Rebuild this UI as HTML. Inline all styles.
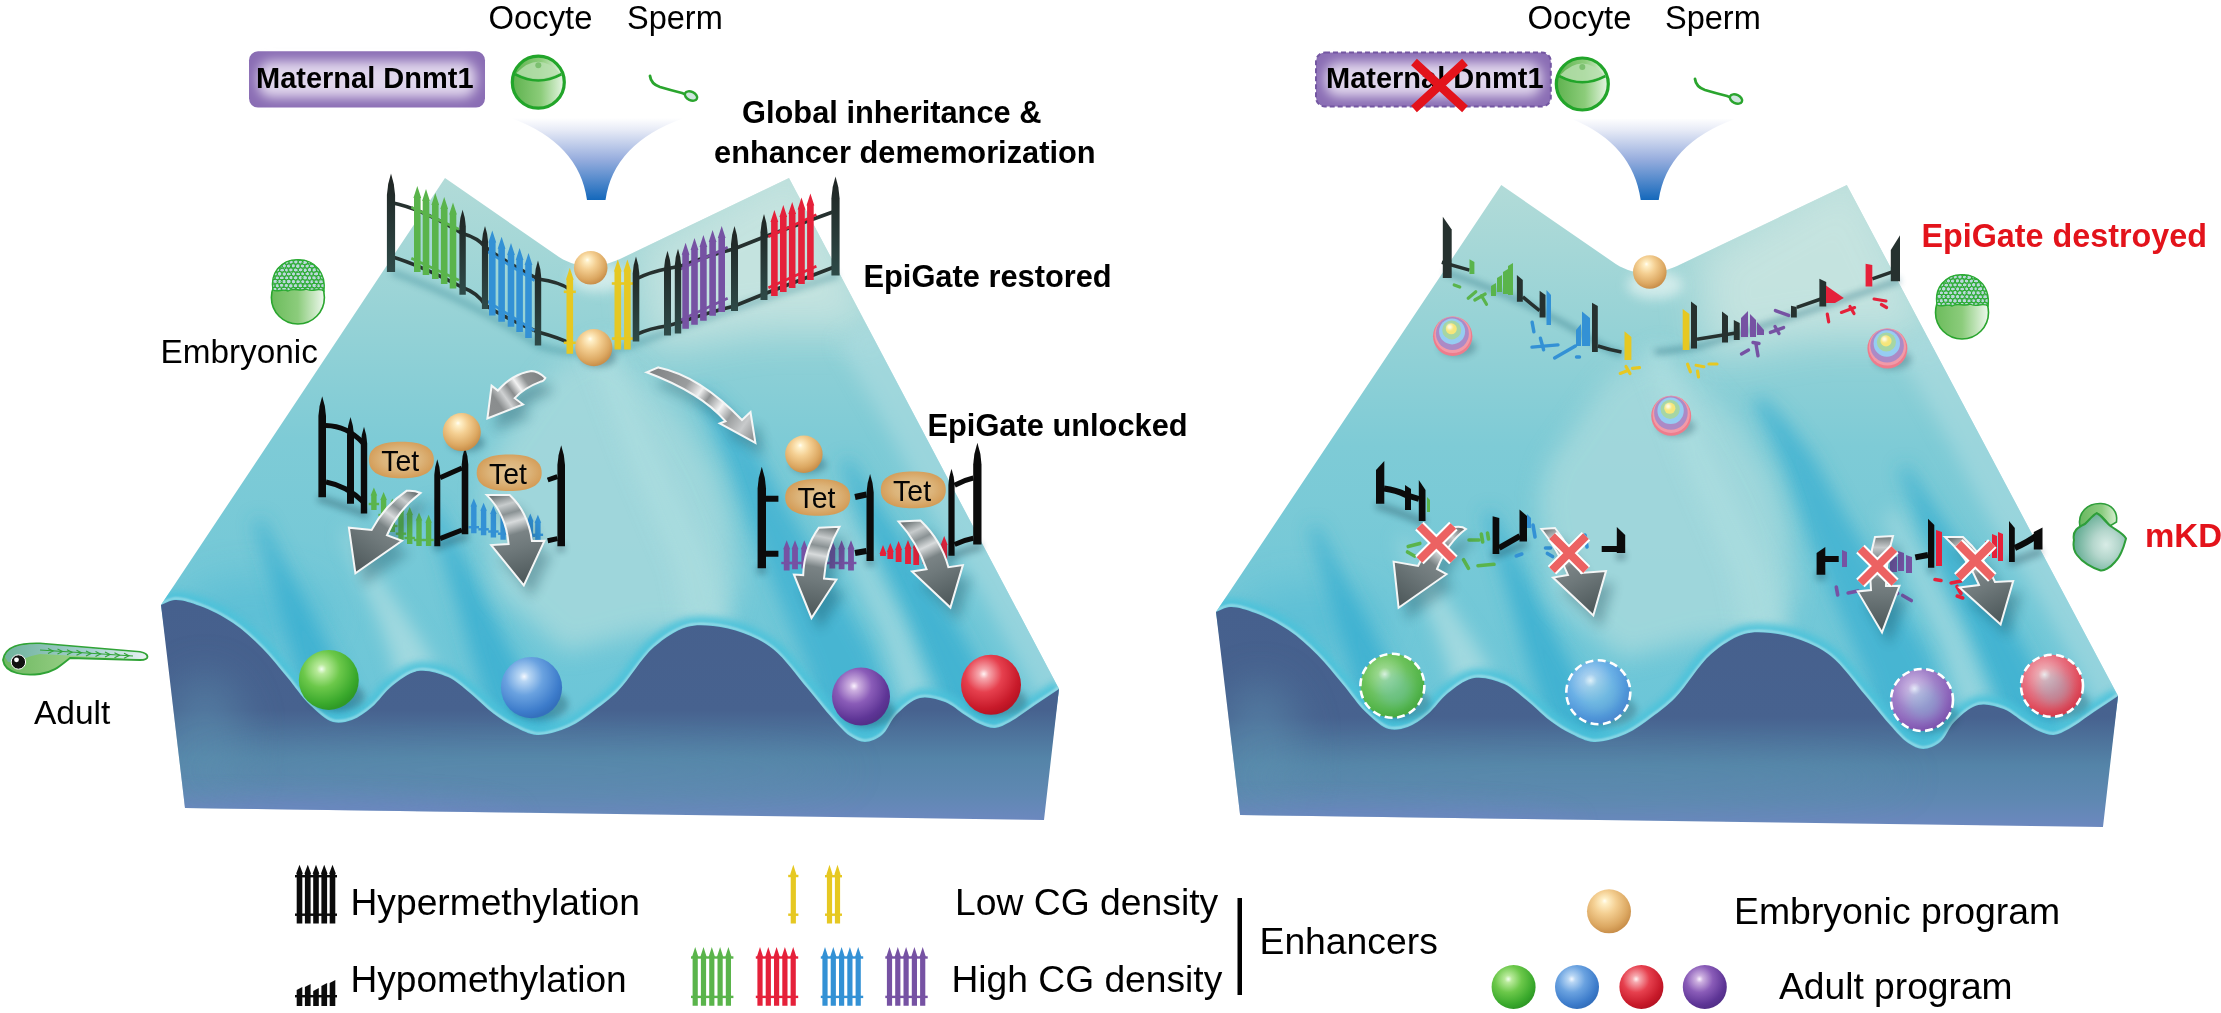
<!DOCTYPE html><html><head><meta charset="utf-8"><style>html,body{margin:0;padding:0;background:#fff;width:2221px;height:1013px;overflow:hidden}svg{display:block}text{font-family:"Liberation Sans",sans-serif}</style></head><body>
<svg width="2221" height="1013" viewBox="0 0 2221 1013">
<defs>
<linearGradient id="gFront" x1="0" y1="600" x2="0" y2="820" gradientUnits="userSpaceOnUse">
 <stop offset="0" stop-color="#46608d"/><stop offset="0.5" stop-color="#47628f"/>
 <stop offset="0.72" stop-color="#5484a8"/><stop offset="0.88" stop-color="#5f88b2"/><stop offset="1" stop-color="#6c88bf"/></linearGradient>
<linearGradient id="gTop" x1="0" y1="178" x2="0" y2="700" gradientUnits="userSpaceOnUse">
 <stop offset="0" stop-color="#b2dbd8"/><stop offset="0.25" stop-color="#98d3d6"/>
 <stop offset="0.5" stop-color="#7ecbd6"/><stop offset="1" stop-color="#6cc6d8"/></linearGradient>
<filter id="b6" x="-50%" y="-50%" width="200%" height="200%"><feGaussianBlur stdDeviation="6"/></filter>
<filter id="b12" x="-50%" y="-50%" width="200%" height="200%"><feGaussianBlur stdDeviation="12"/></filter>
<filter id="b20" x="-50%" y="-50%" width="200%" height="200%"><feGaussianBlur stdDeviation="20"/></filter>
<filter id="b9" x="-50%" y="-50%" width="200%" height="200%"><feGaussianBlur stdDeviation="9"/></filter>
<filter id="b4" x="-50%" y="-50%" width="200%" height="200%"><feGaussianBlur stdDeviation="4"/></filter>
<filter id="b1" x="-50%" y="-50%" width="200%" height="200%"><feGaussianBlur stdDeviation="1"/></filter>
<filter id="b3" x="-50%" y="-50%" width="200%" height="200%"><feGaussianBlur stdDeviation="3"/></filter>
<clipPath id="cTop"><path d="M445,178 L559,257 C570,264 580,266 592,266 C603,266 610,263 620,259 L789,178 L1059,689 L1050,760 L182,760 L161,605 Z"/></clipPath>
<clipPath id="cFront"><path d="M161.0,605.0 C165.7,603.3 169.6,600.3 175.0,600.0 C182.1,599.6 191.3,602.8 200.0,606.0 C210.5,609.9 222.7,616.1 233.0,623.0 C243.4,630.0 253.0,639.0 262.0,648.0 C271.0,657.0 278.9,667.4 287.0,677.0 C294.9,686.4 301.8,697.2 310.0,705.0 C317.3,711.9 325.3,719.9 333.0,722.0 C339.3,723.7 345.8,722.2 352.0,720.0 C358.9,717.6 365.6,712.3 372.0,707.0 C379.0,701.2 384.4,692.0 392.0,686.0 C399.7,679.9 408.7,672.5 418.0,671.0 C427.4,669.5 439.1,673.1 448.0,677.0 C456.4,680.7 462.6,687.1 470.0,693.0 C478.0,699.4 486.0,708.1 494.0,714.0 C501.0,719.2 507.7,723.5 515.0,727.0 C522.1,730.4 528.9,734.6 537.0,735.0 C546.6,735.5 559.2,731.3 569.0,727.0 C578.5,722.8 586.8,716.1 595.0,710.0 C603.1,704.1 609.9,699.1 618.0,691.0 C629.2,679.8 641.3,658.1 654.0,647.0 C664.5,637.9 676.2,630.2 687.0,627.0 C695.8,624.3 704.1,625.1 713.0,626.0 C722.7,626.9 733.2,629.3 743.0,633.0 C753.3,636.9 763.3,641.3 773.0,649.0 C785.1,658.6 797.5,676.7 808.0,689.0 C816.8,699.4 824.4,709.6 832.0,718.0 C838.3,724.9 843.8,731.9 850.0,736.0 C854.9,739.2 859.8,742.0 865.0,742.0 C870.5,742.0 877.1,738.9 882.0,735.0 C887.7,730.5 890.1,720.9 896.0,715.0 C902.5,708.5 911.5,700.0 920.0,698.0 C927.9,696.2 937.4,699.1 945.0,702.0 C952.4,704.8 958.8,711.1 965.0,715.0 C970.3,718.3 974.8,721.8 980.0,724.0 C984.9,726.1 990.0,728.3 995.0,728.0 C1000.1,727.7 1004.5,724.9 1010.0,722.0 C1017.5,718.0 1026.7,710.6 1035.0,705.0 C1043.1,699.6 1051.0,694.3 1059.0,689.0 L1044,820 L185,808 Z"/></clipPath>
<radialGradient id="gOr" cx="42%" cy="36%" r="64%" fx="40%" fy="26%"><stop offset="0" stop-color="#fffef6"/><stop offset="0.1" stop-color="#fff0c8"/><stop offset="0.4" stop-color="#f4cf92"/><stop offset="0.8" stop-color="#dca862"/><stop offset="1" stop-color="#c98f4a"/></radialGradient><radialGradient id="gGr" cx="38%" cy="32%" r="68%" fx="38%" fy="32%"><stop offset="0" stop-color="#f2fff0"/><stop offset="0.12" stop-color="#b8ea9a"/><stop offset="0.45" stop-color="#6cc84a"/><stop offset="0.85" stop-color="#3aa92c"/><stop offset="1" stop-color="#2f9a26"/></radialGradient><radialGradient id="gBl" cx="38%" cy="32%" r="68%" fx="38%" fy="32%"><stop offset="0" stop-color="#f4f8ff"/><stop offset="0.12" stop-color="#b8d6f4"/><stop offset="0.45" stop-color="#6aa2e0"/><stop offset="0.85" stop-color="#3d7ccb"/><stop offset="1" stop-color="#3470bd"/></radialGradient><radialGradient id="gPu" cx="38%" cy="32%" r="68%" fx="38%" fy="32%"><stop offset="0" stop-color="#fbf2ff"/><stop offset="0.12" stop-color="#cdb0e0"/><stop offset="0.45" stop-color="#8a5cb8"/><stop offset="0.85" stop-color="#5e3596"/><stop offset="1" stop-color="#54308a"/></radialGradient><radialGradient id="gRe" cx="38%" cy="32%" r="68%" fx="38%" fy="32%"><stop offset="0" stop-color="#fff4f4"/><stop offset="0.12" stop-color="#f6a8ae"/><stop offset="0.45" stop-color="#e6404e"/><stop offset="0.85" stop-color="#c81a2a"/><stop offset="1" stop-color="#b81424"/></radialGradient><radialGradient id="gGrF" cx="38%" cy="32%" r="68%" fx="38%" fy="32%"><stop offset="0" stop-color="#e8f8e0"/><stop offset="0.15" stop-color="#9ad88a"/><stop offset="0.5" stop-color="#6cc25a"/><stop offset="0.85" stop-color="#52b448"/><stop offset="1" stop-color="#48aa40"/></radialGradient><radialGradient id="gBlF" cx="38%" cy="32%" r="68%" fx="38%" fy="32%"><stop offset="0" stop-color="#f0f8ff"/><stop offset="0.15" stop-color="#a8d0f0"/><stop offset="0.5" stop-color="#6ab0e6"/><stop offset="0.85" stop-color="#4e94d8"/><stop offset="1" stop-color="#4a8ad0"/></radialGradient><radialGradient id="gPuF" cx="38%" cy="32%" r="68%" fx="38%" fy="32%"><stop offset="0" stop-color="#f8f0ff"/><stop offset="0.15" stop-color="#c8b0e0"/><stop offset="0.5" stop-color="#a080c8"/><stop offset="0.85" stop-color="#8a60b8"/><stop offset="1" stop-color="#7e54ae"/></radialGradient><radialGradient id="gReF" cx="38%" cy="32%" r="68%" fx="38%" fy="32%"><stop offset="0" stop-color="#fff0f0"/><stop offset="0.15" stop-color="#f0a8b0"/><stop offset="0.5" stop-color="#e87080"/><stop offset="0.85" stop-color="#e04858"/><stop offset="1" stop-color="#d83a4c"/></radialGradient><radialGradient id="gRainbow" cx="50%" cy="50%" r="50%" fx="42%" fy="34%"><stop offset="0" stop-color="#fffab0"/><stop offset="0.14" stop-color="#f4ec78"/><stop offset="0.24" stop-color="#c4e4a0"/><stop offset="0.36" stop-color="#a6dcc0"/><stop offset="0.46" stop-color="#96cff2"/><stop offset="0.58" stop-color="#a4b4ea"/><stop offset="0.7" stop-color="#ae94d2"/><stop offset="0.82" stop-color="#d494c4"/><stop offset="0.92" stop-color="#f4a0b0"/><stop offset="1" stop-color="#ee7484"/></radialGradient><radialGradient id="gTet" cx="50%" cy="48%" r="55%" fx="50%" fy="48%"><stop offset="0" stop-color="#e2c492"/><stop offset="0.55" stop-color="#dcb47a"/><stop offset="1" stop-color="#d39a54"/></radialGradient><linearGradient id="gPost" x1="0" y1="0" x2="0" y2="1" gradientUnits="objectBoundingBox"><stop offset="0" stop-color="#1f2422"/><stop offset="1" stop-color="#2e4a48"/></linearGradient><linearGradient id="gArrU" x1="545" y1="377" x2="487" y2="418" gradientUnits="userSpaceOnUse"><stop offset="0" stop-color="#7d8081"/><stop offset="0.25" stop-color="#8f9293"/><stop offset="0.38" stop-color="#f2f2f2"/><stop offset="0.5" stop-color="#8a8d8e"/><stop offset="0.62" stop-color="#cfd1d2"/><stop offset="0.75" stop-color="#8a8d8e"/><stop offset="1" stop-color="#8c8f90"/></linearGradient><linearGradient id="gArrU2" x1="650" y1="370" x2="755" y2="443" gradientUnits="userSpaceOnUse"><stop offset="0" stop-color="#7f8283"/><stop offset="0.3" stop-color="#9a9d9e"/><stop offset="0.42" stop-color="#eeeeee"/><stop offset="0.5" stop-color="#8e9192"/><stop offset="0.62" stop-color="#f4f4f4"/><stop offset="0.72" stop-color="#9a9d9e"/><stop offset="0.85" stop-color="#c8cacb"/><stop offset="1" stop-color="#7f8283"/></linearGradient><linearGradient id="gArrD1" x1="413" y1="492" x2="355" y2="573" gradientUnits="userSpaceOnUse"><stop offset="0" stop-color="#6f7778"/><stop offset="0.12" stop-color="#c7cbcc"/><stop offset="0.22" stop-color="#8a9294"/><stop offset="0.32" stop-color="#d8dbdc"/><stop offset="0.45" stop-color="#7a8385"/><stop offset="0.6" stop-color="#6f797b"/><stop offset="1" stop-color="#4b5658"/></linearGradient><linearGradient id="gArrD2" x1="498" y1="495" x2="524" y2="585" gradientUnits="userSpaceOnUse"><stop offset="0" stop-color="#6f7778"/><stop offset="0.12" stop-color="#c7cbcc"/><stop offset="0.22" stop-color="#8a9294"/><stop offset="0.32" stop-color="#d8dbdc"/><stop offset="0.45" stop-color="#7a8385"/><stop offset="0.6" stop-color="#6f797b"/><stop offset="1" stop-color="#4b5658"/></linearGradient><linearGradient id="gArrD3" x1="829" y1="527" x2="811" y2="618" gradientUnits="userSpaceOnUse"><stop offset="0" stop-color="#6f7778"/><stop offset="0.12" stop-color="#c7cbcc"/><stop offset="0.22" stop-color="#8a9294"/><stop offset="0.32" stop-color="#d8dbdc"/><stop offset="0.45" stop-color="#7a8385"/><stop offset="0.6" stop-color="#6f797b"/><stop offset="1" stop-color="#4b5658"/></linearGradient><linearGradient id="gArrD4" x1="909" y1="521" x2="950" y2="607" gradientUnits="userSpaceOnUse"><stop offset="0" stop-color="#6f7778"/><stop offset="0.12" stop-color="#c7cbcc"/><stop offset="0.22" stop-color="#8a9294"/><stop offset="0.32" stop-color="#d8dbdc"/><stop offset="0.45" stop-color="#7a8385"/><stop offset="0.6" stop-color="#6f797b"/><stop offset="1" stop-color="#4b5658"/></linearGradient><linearGradient id="gArrD1r" x1="1460" y1="528" x2="1398" y2="607" gradientUnits="userSpaceOnUse"><stop offset="0" stop-color="#6f7778"/><stop offset="0.12" stop-color="#c7cbcc"/><stop offset="0.22" stop-color="#8a9294"/><stop offset="0.32" stop-color="#d8dbdc"/><stop offset="0.45" stop-color="#7a8385"/><stop offset="0.6" stop-color="#6f797b"/><stop offset="1" stop-color="#4b5658"/></linearGradient><linearGradient id="gArrD2r" x1="1548" y1="528" x2="1593" y2="615" gradientUnits="userSpaceOnUse"><stop offset="0" stop-color="#6f7778"/><stop offset="0.12" stop-color="#c7cbcc"/><stop offset="0.22" stop-color="#8a9294"/><stop offset="0.32" stop-color="#d8dbdc"/><stop offset="0.45" stop-color="#7a8385"/><stop offset="0.6" stop-color="#6f797b"/><stop offset="1" stop-color="#4b5658"/></linearGradient><linearGradient id="gArrD3r" x1="1884" y1="536" x2="1882" y2="632" gradientUnits="userSpaceOnUse"><stop offset="0" stop-color="#6f7778"/><stop offset="0.12" stop-color="#c7cbcc"/><stop offset="0.22" stop-color="#8a9294"/><stop offset="0.32" stop-color="#d8dbdc"/><stop offset="0.45" stop-color="#7a8385"/><stop offset="0.6" stop-color="#6f797b"/><stop offset="1" stop-color="#4b5658"/></linearGradient><linearGradient id="gArrD4r" x1="1954" y1="537" x2="2000" y2="624" gradientUnits="userSpaceOnUse"><stop offset="0" stop-color="#6f7778"/><stop offset="0.12" stop-color="#c7cbcc"/><stop offset="0.22" stop-color="#8a9294"/><stop offset="0.32" stop-color="#d8dbdc"/><stop offset="0.45" stop-color="#7a8385"/><stop offset="0.6" stop-color="#6f797b"/><stop offset="1" stop-color="#4b5658"/></linearGradient><linearGradient id="gFunnel" x1="0" y1="118" x2="0" y2="200" gradientUnits="userSpaceOnUse"><stop offset="0" stop-color="#ffffff"/><stop offset="0.15" stop-color="#e6eaf6"/><stop offset="0.5" stop-color="#98aede"/><stop offset="1" stop-color="#1468bb"/></linearGradient><linearGradient id="gOocyte" x1="0" y1="0" x2="1" y2="0" gradientUnits="objectBoundingBox"><stop offset="0" stop-color="#5eb24e"/><stop offset="0.55" stop-color="#8ccc7a"/><stop offset="1" stop-color="#e8f6e6"/></linearGradient><linearGradient id="gEmb" x1="0" y1="0" x2="1" y2="0" gradientUnits="objectBoundingBox"><stop offset="0" stop-color="#6cbc5c"/><stop offset="0.5" stop-color="#8ccc7c"/><stop offset="1" stop-color="#eef8ee"/></linearGradient><linearGradient id="gBoxV" x1="0" y1="51" x2="0" y2="108" gradientUnits="userSpaceOnUse"><stop offset="0" stop-color="#8a6db4"/><stop offset="0.25" stop-color="#cfc0e2"/><stop offset="0.5" stop-color="#eae3f3"/><stop offset="0.75" stop-color="#cfc0e2"/><stop offset="1" stop-color="#8a6db4"/></linearGradient><linearGradient id="gBoxH" x1="0" y1="0" x2="1" y2="0" gradientUnits="objectBoundingBox"><stop offset="0" stop-color="#8a6db4"/><stop offset="0.06" stop-color="#cdbfe0"/><stop offset="0.2" stop-color="#e8e0f2"/><stop offset="0.8" stop-color="#e8e0f2"/><stop offset="0.94" stop-color="#cdbfe0"/><stop offset="1" stop-color="#8a6db4"/></linearGradient><linearGradient id="gFish" x1="0" y1="0" x2="1" y2="0" gradientUnits="objectBoundingBox"><stop offset="0" stop-color="#6db860"/><stop offset="0.5" stop-color="#98cf86"/><stop offset="1" stop-color="#e2f2dc"/></linearGradient><linearGradient id="gFishTop" x1="0" y1="0" x2="1" y2="0" gradientUnits="objectBoundingBox"><stop offset="0" stop-color="#6fb2a2"/><stop offset="0.6" stop-color="#a8d0d8"/><stop offset="1" stop-color="#e8f2f6"/></linearGradient><radialGradient id="gBlob" cx="62%" cy="55%" r="62%" fx="62%" fy="55%"><stop offset="0" stop-color="#d8ece6"/><stop offset="0.4" stop-color="#b4d6cc"/><stop offset="1" stop-color="#5faa90"/></radialGradient><linearGradient id="gHood" x1="0" y1="0" x2="1" y2="0" gradientUnits="objectBoundingBox"><stop offset="0" stop-color="#6ab860"/><stop offset="0.6" stop-color="#8ccc80"/><stop offset="1" stop-color="#d6eed0"/></linearGradient></defs>

<g id="land">
 <path d="M445,178 L559,257 C570,264 580,266 592,266 C603,266 610,263 620,259 L789,178 L1059,689 L1050,760 L182,760 L161,605 Z" fill="url(#gTop)"/>
 <g clip-path="url(#cTop)">
  <ellipse cx="255" cy="615" rx="75" ry="38" fill="#45b6d4" opacity="0.45" filter="url(#b20)"/><g filter="url(#b9)" fill="#3aafd0"><path d="M254.3,521.5 L271.6,578.3 L285.0,625.2 L294.1,661.4 L304.2,708.5 L308.5,737.2 L363.5,718.8 L349.8,693.5 L329.9,648.6 L311.0,614.8 L288.4,571.7 L261.7,518.5Z" opacity="0.85"/><path d="M428.3,506.5 L443.8,558.3 L457.4,605.0 L471.0,652.9 L488.3,706.5 L513.1,756.6 L560.9,727.4 L529.7,685.5 L505.0,639.1 L482.6,595.0 L460.2,551.7 L435.7,503.5Z" opacity="0.85"/><path d="M695.9,394.9 L711.1,425.6 L727.7,465.2 L749.6,527.2 L777.9,596.1 L809.7,671.7 L829.5,760.5 L902.5,739.5 L870.3,648.3 L826.1,571.9 L788.4,508.8 L756.3,450.8 L728.9,414.4 L704.1,389.1Z" opacity="0.75"/><path d="M841.4,461.8 L864.6,525.6 L904.5,611.0 L960.1,746.8 L1009.9,723.2 L939.5,593.0 L885.4,514.4 L848.6,458.2Z" opacity="0.80"/></g>
  <path d="M640,250 L800,160 L880,330 L760,330 L650,350 Z" fill="#cae5e1" opacity="0.85" filter="url(#b20)"/><ellipse cx="598" cy="278" rx="28" ry="14" fill="#e6f4f2" opacity="0.7" filter="url(#b6)"/><path d="M551,372 L596,345 L639,372 L684,421 L714,470 L730,518 L738,584 L725,632 L650,630 L565,652 L497,590 L482,492 L492,455 Z" fill="#a6d9dc" opacity="0.85" filter="url(#b12)"/><g filter="url(#b9)" fill="#b2dfe2"><path d="M584.9,344.5 L625.9,456.0 L672.5,566.5 L686.7,637.3 L729.3,626.7 L707.5,553.5 L654.1,444.0 L607.1,335.5Z" opacity="0.50"/><path d="M342.3,531.4 L361.4,578.5 L379.4,620.6 L390.0,651.9 L398.6,684.1 L437.4,667.9 L420.0,638.1 L400.6,609.4 L374.6,571.5 L347.7,528.6Z" opacity="0.75"/><path d="M824.7,508.1 L884.0,635.5 L903.8,704.9 L932.2,695.1 L904.0,626.5 L837.3,501.9Z" opacity="0.60"/><path d="M838.2,342.3 L883.4,421.6 L930.0,511.7 L979.6,591.6 L1039.7,702.9 L1080.3,681.1 L1020.4,568.4 L972.0,488.3 L926.6,398.4 L881.8,317.7Z" opacity="0.55"/></g>
  <path d="M161.0,605.0 C165.7,603.3 169.6,600.3 175.0,600.0 C182.1,599.6 191.3,602.8 200.0,606.0 C210.5,609.9 222.7,616.1 233.0,623.0 C243.4,630.0 253.0,639.0 262.0,648.0 C271.0,657.0 278.9,667.4 287.0,677.0 C294.9,686.4 301.8,697.2 310.0,705.0 C317.3,711.9 325.3,719.9 333.0,722.0 C339.3,723.7 345.8,722.2 352.0,720.0 C358.9,717.6 365.6,712.3 372.0,707.0 C379.0,701.2 384.4,692.0 392.0,686.0 C399.7,679.9 408.7,672.5 418.0,671.0 C427.4,669.5 439.1,673.1 448.0,677.0 C456.4,680.7 462.6,687.1 470.0,693.0 C478.0,699.4 486.0,708.1 494.0,714.0 C501.0,719.2 507.7,723.5 515.0,727.0 C522.1,730.4 528.9,734.6 537.0,735.0 C546.6,735.5 559.2,731.3 569.0,727.0 C578.5,722.8 586.8,716.1 595.0,710.0 C603.1,704.1 609.9,699.1 618.0,691.0 C629.2,679.8 641.3,658.1 654.0,647.0 C664.5,637.9 676.2,630.2 687.0,627.0 C695.8,624.3 704.1,625.1 713.0,626.0 C722.7,626.9 733.2,629.3 743.0,633.0 C753.3,636.9 763.3,641.3 773.0,649.0 C785.1,658.6 797.5,676.7 808.0,689.0 C816.8,699.4 824.4,709.6 832.0,718.0 C838.3,724.9 843.8,731.9 850.0,736.0 C854.9,739.2 859.8,742.0 865.0,742.0 C870.5,742.0 877.1,738.9 882.0,735.0 C887.7,730.5 890.1,720.9 896.0,715.0 C902.5,708.5 911.5,700.0 920.0,698.0 C927.9,696.2 937.4,699.1 945.0,702.0 C952.4,704.8 958.8,711.1 965.0,715.0 C970.3,718.3 974.8,721.8 980.0,724.0 C984.9,726.1 990.0,728.3 995.0,728.0 C1000.1,727.7 1004.5,724.9 1010.0,722.0 C1017.5,718.0 1026.7,710.6 1035.0,705.0 C1043.1,699.6 1051.0,694.3 1059.0,689.0" fill="none" stroke="#4cc2da" stroke-width="18" filter="url(#b3)" opacity="0.85"/>
  <path d="M161.0,605.0 C165.7,603.3 169.6,600.3 175.0,600.0 C182.1,599.6 191.3,602.8 200.0,606.0 C210.5,609.9 222.7,616.1 233.0,623.0 C243.4,630.0 253.0,639.0 262.0,648.0 C271.0,657.0 278.9,667.4 287.0,677.0 C294.9,686.4 301.8,697.2 310.0,705.0 C317.3,711.9 325.3,719.9 333.0,722.0 C339.3,723.7 345.8,722.2 352.0,720.0 C358.9,717.6 365.6,712.3 372.0,707.0 C379.0,701.2 384.4,692.0 392.0,686.0 C399.7,679.9 408.7,672.5 418.0,671.0 C427.4,669.5 439.1,673.1 448.0,677.0 C456.4,680.7 462.6,687.1 470.0,693.0 C478.0,699.4 486.0,708.1 494.0,714.0 C501.0,719.2 507.7,723.5 515.0,727.0 C522.1,730.4 528.9,734.6 537.0,735.0 C546.6,735.5 559.2,731.3 569.0,727.0 C578.5,722.8 586.8,716.1 595.0,710.0 C603.1,704.1 609.9,699.1 618.0,691.0 C629.2,679.8 641.3,658.1 654.0,647.0 C664.5,637.9 676.2,630.2 687.0,627.0 C695.8,624.3 704.1,625.1 713.0,626.0 C722.7,626.9 733.2,629.3 743.0,633.0 C753.3,636.9 763.3,641.3 773.0,649.0 C785.1,658.6 797.5,676.7 808.0,689.0 C816.8,699.4 824.4,709.6 832.0,718.0 C838.3,724.9 843.8,731.9 850.0,736.0 C854.9,739.2 859.8,742.0 865.0,742.0 C870.5,742.0 877.1,738.9 882.0,735.0 C887.7,730.5 890.1,720.9 896.0,715.0 C902.5,708.5 911.5,700.0 920.0,698.0 C927.9,696.2 937.4,699.1 945.0,702.0 C952.4,704.8 958.8,711.1 965.0,715.0 C970.3,718.3 974.8,721.8 980.0,724.0 C984.9,726.1 990.0,728.3 995.0,728.0 C1000.1,727.7 1004.5,724.9 1010.0,722.0 C1017.5,718.0 1026.7,710.6 1035.0,705.0 C1043.1,699.6 1051.0,694.3 1059.0,689.0" fill="none" stroke="#b8e6ee" stroke-width="2.2" transform="translate(0,-1.5)" filter="url(#b1)" opacity="0.8"/>
 </g>
 <path d="M161.0,605.0 C165.7,603.3 169.6,600.3 175.0,600.0 C182.1,599.6 191.3,602.8 200.0,606.0 C210.5,609.9 222.7,616.1 233.0,623.0 C243.4,630.0 253.0,639.0 262.0,648.0 C271.0,657.0 278.9,667.4 287.0,677.0 C294.9,686.4 301.8,697.2 310.0,705.0 C317.3,711.9 325.3,719.9 333.0,722.0 C339.3,723.7 345.8,722.2 352.0,720.0 C358.9,717.6 365.6,712.3 372.0,707.0 C379.0,701.2 384.4,692.0 392.0,686.0 C399.7,679.9 408.7,672.5 418.0,671.0 C427.4,669.5 439.1,673.1 448.0,677.0 C456.4,680.7 462.6,687.1 470.0,693.0 C478.0,699.4 486.0,708.1 494.0,714.0 C501.0,719.2 507.7,723.5 515.0,727.0 C522.1,730.4 528.9,734.6 537.0,735.0 C546.6,735.5 559.2,731.3 569.0,727.0 C578.5,722.8 586.8,716.1 595.0,710.0 C603.1,704.1 609.9,699.1 618.0,691.0 C629.2,679.8 641.3,658.1 654.0,647.0 C664.5,637.9 676.2,630.2 687.0,627.0 C695.8,624.3 704.1,625.1 713.0,626.0 C722.7,626.9 733.2,629.3 743.0,633.0 C753.3,636.9 763.3,641.3 773.0,649.0 C785.1,658.6 797.5,676.7 808.0,689.0 C816.8,699.4 824.4,709.6 832.0,718.0 C838.3,724.9 843.8,731.9 850.0,736.0 C854.9,739.2 859.8,742.0 865.0,742.0 C870.5,742.0 877.1,738.9 882.0,735.0 C887.7,730.5 890.1,720.9 896.0,715.0 C902.5,708.5 911.5,700.0 920.0,698.0 C927.9,696.2 937.4,699.1 945.0,702.0 C952.4,704.8 958.8,711.1 965.0,715.0 C970.3,718.3 974.8,721.8 980.0,724.0 C984.9,726.1 990.0,728.3 995.0,728.0 C1000.1,727.7 1004.5,724.9 1010.0,722.0 C1017.5,718.0 1026.7,710.6 1035.0,705.0 C1043.1,699.6 1051.0,694.3 1059.0,689.0 L1044,820 L185,808 Z" fill="url(#gFront)"/>
 <g clip-path="url(#cFront)">
  <ellipse cx="205" cy="745" rx="40" ry="70" fill="#5e92b0" filter="url(#b20)" opacity="0.5"/>
  <ellipse cx="520" cy="770" rx="330" ry="24" fill="#5e93ae" filter="url(#b20)" opacity="0.35"/>
  <ellipse cx="300" cy="818" rx="220" ry="22" fill="#7088c4" filter="url(#b12)" opacity="0.5"/>
 </g>
</g>

<use href="#land" transform="translate(1216,612) scale(1.0045,1) translate(-161,-605)"/>
<path d="M392,272 Q470,300 540,346 Q590,362 640,342 Q740,305 838,275" fill="none" stroke="#2f7f8c" stroke-width="7" opacity="0.35" filter="url(#b3)"/><path d="M391,202.5 Q420,208 462.6,233.6 Q478,238 485,247 Q505,262 538,279 Q560,282 570,289.5" fill="none" stroke="#26312f" stroke-width="3.6"/><path d="M391,256.4 Q420,265 462.6,287.5 Q478,293 485,305 Q505,318 538,332 Q560,338 570,343.4" fill="none" stroke="#26312f" stroke-width="3.6"/><path d="M636,279 Q650,272 668,268.5 L681,266 Q710,255 734.5,248.7 L764,237 Q800,224 835.5,211" fill="none" stroke="#26312f" stroke-width="3.6"/><path d="M636,334.6 Q650,328 668,325.7 L681,322 Q710,312 734.5,306 L764,294 Q800,280 835.5,266.5" fill="none" stroke="#26312f" stroke-width="3.6"/><path d="M414.0,272.0 L414.0,198.0 L413.4,198.0 L417.3,186.0 L421.2,198.0 L420.6,198.0 L420.6,272.0Z" fill="#5ab44b"/><path d="M422.7,275.0 L422.7,201.0 L422.1,201.0 L426.0,189.0 L429.9,201.0 L429.3,201.0 L429.3,275.0Z" fill="#5ab44b"/><path d="M432.0,279.0 L432.0,205.0 L431.4,205.0 L435.3,193.0 L439.2,205.0 L438.6,205.0 L438.6,279.0Z" fill="#5ab44b"/><path d="M440.9,284.0 L440.9,209.0 L440.3,209.0 L444.2,197.0 L448.1,209.0 L447.5,209.0 L447.5,284.0Z" fill="#5ab44b"/><path d="M449.7,288.5 L449.7,214.5 L449.1,214.5 L453.0,202.5 L456.9,214.5 L456.3,214.5 L456.3,288.5Z" fill="#5ab44b"/><path d="M411.3,207.2 L459.0,229.3" stroke="#5ab44b" stroke-width="2.6"/><path d="M411.3,258.2 L459.0,280.3" stroke="#5ab44b" stroke-width="2.6"/><path d="M489.0,315.4 L489.0,242.5 L488.4,242.5 L492.3,230.5 L496.2,242.5 L495.6,242.5 L495.6,315.4Z" fill="#3391d5"/><path d="M498.3,321.7 L498.3,248.7 L497.7,248.7 L501.6,236.7 L505.5,248.7 L504.9,248.7 L504.9,321.7Z" fill="#3391d5"/><path d="M507.7,326.8 L507.7,255.0 L507.1,255.0 L511.0,243.0 L514.9,255.0 L514.3,255.0 L514.3,326.8Z" fill="#3391d5"/><path d="M516.3,332.0 L516.3,260.0 L515.7,260.0 L519.6,248.0 L523.5,260.0 L522.9,260.0 L522.9,332.0Z" fill="#3391d5"/><path d="M525.2,338.0 L525.2,265.0 L524.6,265.0 L528.5,253.0 L532.4,265.0 L531.8,265.0 L531.8,338.0Z" fill="#3391d5"/><path d="M486.3,250.8 L534.5,280.7" stroke="#3391d5" stroke-width="2.6"/><path d="M486.3,300.7 L534.5,330.7" stroke="#3391d5" stroke-width="2.6"/><path d="M566.5,353.8 L566.5,279.8 L565.9,279.8 L569.8,267.8 L573.7,279.8 L573.1,279.8 L573.1,353.8Z" fill="#e6c822"/><path d="M563.8,291.8 L575.8,291.8" stroke="#e6c822" stroke-width="2.6"/><path d="M563.8,342.8 L575.8,342.8" stroke="#e6c822" stroke-width="2.6"/><path d="M614.5,349.6 L614.5,271.5 L613.9,271.5 L617.8,259.5 L621.7,271.5 L621.1,271.5 L621.1,349.6Z" fill="#e6c822"/><path d="M624.1,349.6 L624.1,271.5 L623.5,271.5 L627.4,259.5 L631.3,271.5 L630.7,271.5 L630.7,349.6Z" fill="#e6c822"/><path d="M611.8,283.5 L633.4,283.5" stroke="#e6c822" stroke-width="2.6"/><path d="M611.8,338.6 L633.4,338.6" stroke="#e6c822" stroke-width="2.6"/><path d="M682.3,328.7 L682.3,254.8 L681.7,254.8 L685.6,242.8 L689.5,254.8 L688.9,254.8 L688.9,328.7Z" fill="#7652a3"/><path d="M691.2,324.7 L691.2,249.9 L690.6,249.9 L694.5,237.9 L698.4,249.9 L697.8,249.9 L697.8,324.7Z" fill="#7652a3"/><path d="M700.1,320.8 L700.1,247.0 L699.5,247.0 L703.4,235.0 L707.3,247.0 L706.7,247.0 L706.7,320.8Z" fill="#7652a3"/><path d="M709.3,315.8 L709.3,242.0 L708.7,242.0 L712.6,230.0 L716.5,242.0 L715.9,242.0 L715.9,315.8Z" fill="#7652a3"/><path d="M718.4,312.0 L718.4,238.0 L717.8,238.0 L721.7,226.0 L725.6,238.0 L725.0,238.0 L725.0,312.0Z" fill="#7652a3"/><path d="M679.6,269.6 L727.7,247.2" stroke="#7652a3" stroke-width="2.6"/><path d="M679.6,320.5 L727.7,298.2" stroke="#7652a3" stroke-width="2.6"/><path d="M771.1,296.0 L771.1,222.0 L770.5,222.0 L774.4,210.0 L778.3,222.0 L777.7,222.0 L777.7,296.0Z" fill="#e5213a"/><path d="M780.0,292.0 L780.0,217.0 L779.4,217.0 L783.3,205.0 L787.2,217.0 L786.6,217.0 L786.6,292.0Z" fill="#e5213a"/><path d="M788.9,288.0 L788.9,214.0 L788.3,214.0 L792.2,202.0 L796.1,214.0 L795.5,214.0 L795.5,288.0Z" fill="#e5213a"/><path d="M798.2,284.0 L798.2,209.4 L797.6,209.4 L801.5,197.4 L805.4,209.4 L804.8,209.4 L804.8,284.0Z" fill="#e5213a"/><path d="M807.1,280.0 L807.1,205.4 L806.5,205.4 L810.4,193.4 L814.3,205.4 L813.7,205.4 L813.7,280.0Z" fill="#e5213a"/><path d="M768.4,236.8 L816.4,214.6" stroke="#e5213a" stroke-width="2.6"/><path d="M768.4,287.7 L816.4,266.3" stroke="#e5213a" stroke-width="2.6"/><path d="M386.9,272.0 L386.9,195.1 Q387.3,184.3 391.0,173.5 Q394.7,184.3 395.1,195.1 L395.1,272.0Z" fill="url(#gPost)"/><path d="M459.4,294.7 L459.4,226.3 Q459.7,218.0 462.6,209.7 Q465.5,218.0 465.8,226.3 L465.8,294.7Z" fill="url(#gPost)"/><path d="M481.9,309.0 L481.9,242.1 Q482.2,234.1 485.0,226.0 Q487.8,234.1 488.1,242.1 L488.1,309.0Z" fill="url(#gPost)"/><path d="M534.8,345.5 L534.8,277.1 Q535.1,268.8 538.0,260.5 Q540.9,268.8 541.2,277.1 L541.2,345.5Z" fill="url(#gPost)"/><path d="M632.7,341.5 L632.7,273.6 Q633.0,265.0 636.0,256.4 Q639.0,265.0 639.3,273.6 L639.3,341.5Z" fill="url(#gPost)"/><path d="M664.0,335.6 L664.0,268.9 Q664.4,259.8 667.5,250.7 Q670.6,259.8 671.0,268.9 L671.0,335.6Z" fill="url(#gPost)"/><path d="M674.8,333.6 L674.8,265.3 Q675.1,257.0 678.0,248.7 Q680.9,257.0 681.2,265.3 L681.2,333.6Z" fill="url(#gPost)"/><path d="M731.0,311.0 L731.0,244.2 Q731.4,235.1 734.5,226.0 Q737.6,235.1 738.0,244.2 L738.0,311.0Z" fill="url(#gPost)"/><path d="M760.5,300.0 L760.5,232.2 Q760.9,223.1 764.0,214.0 Q767.1,223.1 767.5,232.2 L767.5,300.0Z" fill="url(#gPost)"/><path d="M831.4,275.4 L831.4,198.2 Q831.8,187.4 835.5,176.6 Q839.2,187.4 839.6,198.2 L839.6,275.4Z" fill="url(#gPost)"/><circle cx="590.7" cy="267.8" r="16.8" fill="url(#gOr)"/><ellipse cx="598.4" cy="357.8" rx="17.7" ry="9.3" fill="#1d4a5a" opacity="0.35" filter="url(#b3)"/><circle cx="593.8" cy="347.6" r="18.6" fill="url(#gOr)"/><path d="M531.4,370.9 Q538,371 545.4,377.9 Q544,381 541.2,381.4 Q524,388 514.7,398.2 L523,404.4 L487.4,418.4 L491.6,385.6 L497.9,390.5 Q512,374 531.4,370.9 Z" fill="#0e3a48" opacity="0.3" transform="translate(8,12)" filter="url(#b6)"/><path d="M531.4,370.9 Q538,371 545.4,377.9 Q544,381 541.2,381.4 Q524,388 514.7,398.2 L523,404.4 L487.4,418.4 L491.6,385.6 L497.9,390.5 Q512,374 531.4,370.9 Z" fill="url(#gArrU)" stroke="#f4f6f6" stroke-width="2" stroke-linejoin="miter"/><path d="M646.6,372.3 L658.4,367.4 Q700,376 742,420 L750.5,412.1 L755.4,442.8 L719.8,423.3 L725.4,421.2 Q700.6,392.6 646.6,372.3 Z" fill="#0e3a48" opacity="0.3" transform="translate(8,12)" filter="url(#b6)"/><path d="M646.6,372.3 L658.4,367.4 Q700,376 742,420 L750.5,412.1 L755.4,442.8 L719.8,423.3 L725.4,421.2 Q700.6,392.6 646.6,372.3 Z" fill="url(#gArrU2)" stroke="#f4f6f6" stroke-width="2" stroke-linejoin="miter"/><path d="M318,498 Q340,505 368,515 M434,548 Q450,540 468,536 M557,548 L565,548 M757,570 L766,570 M866,562 L874,562 M948,558 Q965,550 982,546" stroke="#0a3040" stroke-width="8" fill="none" opacity="0.3" filter="url(#b3)"/><path d="M326,425.6 Q347,426 363,443" fill="none" stroke="#0b0b0b" stroke-width="5"/><path d="M326,482 Q347,486 363,501.7" fill="none" stroke="#0b0b0b" stroke-width="5"/><path d="M318.4,497.3 L318.4,416.1 Q318.8,406.2 322.2,396.3 Q325.6,406.2 326.0,416.1 L326.0,497.3Z" fill="#0b0b0b"/><path d="M347.0,503.8 L347.0,435.2 Q347.4,426.1 350.5,417.0 Q353.6,426.1 354.0,435.2 L354.0,503.8Z" fill="#0b0b0b"/><path d="M360.8,513.6 L360.8,443.6 Q361.1,435.1 364.0,426.7 Q366.9,435.1 367.2,443.6 L367.2,513.6Z" fill="#0b0b0b"/><path d="M440,477.8 L462,468" fill="none" stroke="#0b0b0b" stroke-width="5"/><path d="M440,538.6 L462,530" fill="none" stroke="#0b0b0b" stroke-width="5"/><path d="M371.2,510.0 L371.2,495.5 L370.6,495.5 L373.9,487.5 L377.2,495.5 L376.6,495.5 L376.6,510.0Z" fill="#5ab44b"/><rect x="368.7" y="502.8" width="10.4" height="2.4" fill="#5ab44b"/><path d="M380.9,521.0 L380.9,499.9 L380.3,499.9 L383.6,491.9 L386.9,499.9 L386.3,499.9 L386.3,521.0Z" fill="#5ab44b"/><rect x="378.4" y="513.8" width="10.4" height="2.4" fill="#5ab44b"/><path d="M389.6,532.0 L389.6,506.4 L389.0,506.4 L392.3,498.4 L395.6,506.4 L395.0,506.4 L395.0,532.0Z" fill="#5ab44b"/><rect x="387.1" y="524.8" width="10.4" height="2.4" fill="#5ab44b"/><path d="M398.3,539.7 L398.3,511.8 L397.7,511.8 L401.0,503.8 L404.3,511.8 L403.7,511.8 L403.7,539.7Z" fill="#5ab44b"/><rect x="395.8" y="532.5" width="10.4" height="2.4" fill="#5ab44b"/><path d="M407.0,544.0 L407.0,515.0 L406.4,515.0 L409.7,507.0 L413.0,515.0 L412.4,515.0 L412.4,544.0Z" fill="#5ab44b"/><rect x="404.5" y="536.8" width="10.4" height="2.4" fill="#5ab44b"/><path d="M416.3,546.0 L416.3,520.5 L415.7,520.5 L419.0,512.5 L422.3,520.5 L421.7,520.5 L421.7,546.0Z" fill="#5ab44b"/><rect x="413.8" y="538.8" width="10.4" height="2.4" fill="#5ab44b"/><path d="M425.9,546.0 L425.9,522.7 L425.3,522.7 L428.6,514.7 L431.9,522.7 L431.3,522.7 L431.3,546.0Z" fill="#5ab44b"/><rect x="423.4" y="538.8" width="10.4" height="2.4" fill="#5ab44b"/><path d="M471.1,533.2 L471.1,506.4 L470.5,506.4 L473.8,498.4 L477.1,506.4 L476.5,506.4 L476.5,533.2Z" fill="#3391d5"/><rect x="468.6" y="526.0" width="10.4" height="2.4" fill="#3391d5"/><path d="M480.9,535.3 L480.9,510.7 L480.3,510.7 L483.6,502.7 L486.9,510.7 L486.3,510.7 L486.3,535.3Z" fill="#3391d5"/><rect x="478.4" y="528.1" width="10.4" height="2.4" fill="#3391d5"/><path d="M490.7,537.5 L490.7,514.0 L490.1,514.0 L493.4,506.0 L496.7,514.0 L496.1,514.0 L496.1,537.5Z" fill="#3391d5"/><rect x="488.2" y="530.3" width="10.4" height="2.4" fill="#3391d5"/><path d="M500.4,539.7 L500.4,516.2 L499.8,516.2 L503.1,508.2 L506.4,516.2 L505.8,516.2 L505.8,539.7Z" fill="#3391d5"/><rect x="497.9" y="532.5" width="10.4" height="2.4" fill="#3391d5"/><path d="M510.2,540.8 L510.2,518.3 L509.6,518.3 L512.9,510.3 L516.2,518.3 L515.6,518.3 L515.6,540.8Z" fill="#3391d5"/><rect x="507.7" y="533.6" width="10.4" height="2.4" fill="#3391d5"/><path d="M518.9,541.8 L518.9,520.5 L518.3,520.5 L521.6,512.5 L524.9,520.5 L524.3,520.5 L524.3,541.8Z" fill="#3391d5"/><rect x="516.4" y="534.6" width="10.4" height="2.4" fill="#3391d5"/><path d="M527.6,541.8 L527.6,521.6 L527.0,521.6 L530.3,513.6 L533.6,521.6 L533.0,521.6 L533.0,541.8Z" fill="#3391d5"/><rect x="525.1" y="534.6" width="10.4" height="2.4" fill="#3391d5"/><path d="M535.2,540.8 L535.2,522.7 L534.6,522.7 L537.9,514.7 L541.2,522.7 L540.6,522.7 L540.6,540.8Z" fill="#3391d5"/><rect x="532.7" y="533.6" width="10.4" height="2.4" fill="#3391d5"/><path d="M434.3,546.2 L434.3,474.9 Q434.6,467.1 437.3,459.3 Q440.0,467.1 440.3,474.9 L440.3,546.2Z" fill="#0b0b0b"/><path d="M461.7,534.2 L461.7,464.5 Q462.0,455.9 465.0,447.3 Q468.0,455.9 468.3,464.5 L468.3,534.2Z" fill="#0b0b0b"/><path d="M557.4,546.2 L557.4,465.0 Q557.8,455.1 561.2,445.2 Q564.6,455.1 565.0,465.0 L565.0,546.2Z" fill="#0b0b0b"/><path d="M547.7,480 L557.4,476.7 M547.7,540.8 L557.4,538.6" stroke="#0b0b0b" stroke-width="5"/><path d="M783.8,570.5 L783.8,549.3 L783.2,549.3 L786.7,540.3 L790.2,549.3 L789.6,549.3 L789.6,570.5Z" fill="#7652a3"/><rect x="781.3" y="561.8" width="10.8" height="2.4" fill="#7652a3"/><path d="M792.1,569.2 L792.1,549.3 L791.5,549.3 L795.0,540.3 L798.5,549.3 L797.9,549.3 L797.9,569.2Z" fill="#7652a3"/><rect x="789.6" y="561.8" width="10.8" height="2.4" fill="#7652a3"/><path d="M801.4,568.5 L801.4,549.3 L800.8,549.3 L804.3,540.3 L807.8,549.3 L807.2,549.3 L807.2,568.5Z" fill="#7652a3"/><rect x="798.9" y="561.8" width="10.8" height="2.4" fill="#7652a3"/><path d="M810.7,568.0 L810.7,549.3 L810.1,549.3 L813.6,540.3 L817.1,549.3 L816.5,549.3 L816.5,568.0Z" fill="#7652a3"/><rect x="808.2" y="561.8" width="10.8" height="2.4" fill="#7652a3"/><path d="M820.1,568.0 L820.1,549.3 L819.5,549.3 L823.0,540.3 L826.5,549.3 L825.9,549.3 L825.9,568.0Z" fill="#7652a3"/><rect x="817.6" y="561.8" width="10.8" height="2.4" fill="#7652a3"/><path d="M829.4,568.5 L829.4,549.3 L828.8,549.3 L832.3,540.3 L835.8,549.3 L835.2,549.3 L835.2,568.5Z" fill="#7652a3"/><rect x="826.9" y="561.8" width="10.8" height="2.4" fill="#7652a3"/><path d="M838.7,569.2 L838.7,549.3 L838.1,549.3 L841.6,540.3 L845.1,549.3 L844.5,549.3 L844.5,569.2Z" fill="#7652a3"/><rect x="836.2" y="561.8" width="10.8" height="2.4" fill="#7652a3"/><path d="M848.1,570.5 L848.1,549.3 L847.5,549.3 L851.0,540.3 L854.5,549.3 L853.9,549.3 L853.9,570.5Z" fill="#7652a3"/><rect x="845.6" y="561.8" width="10.8" height="2.4" fill="#7652a3"/><path d="M880.1,556.0 L880.1,554.0 L879.5,554.0 L883.0,545.0 L886.5,554.0 L885.9,554.0 L885.9,556.0Z" fill="#e5213a"/><path d="M887.4,559.0 L887.4,552.0 L886.8,552.0 L890.3,543.0 L893.8,552.0 L893.2,552.0 L893.2,559.0Z" fill="#e5213a"/><path d="M895.7,562.0 L895.7,550.0 L895.1,550.0 L898.6,541.0 L902.1,550.0 L901.5,550.0 L901.5,562.0Z" fill="#e5213a"/><path d="M905.1,564.0 L905.1,549.0 L904.5,549.0 L908.0,540.0 L911.5,549.0 L910.9,549.0 L910.9,564.0Z" fill="#e5213a"/><path d="M913.3,565.0 L913.3,548.0 L912.7,548.0 L916.2,539.0 L919.7,548.0 L919.1,548.0 L919.1,565.0Z" fill="#e5213a"/><path d="M922.7,564.0 L922.7,547.0 L922.1,547.0 L925.6,538.0 L929.1,547.0 L928.5,547.0 L928.5,564.0Z" fill="#e5213a"/><path d="M932.1,562.0 L932.1,546.0 L931.5,546.0 L935.0,537.0 L938.5,546.0 L937.9,546.0 L937.9,562.0Z" fill="#e5213a"/><path d="M941.3,559.0 L941.3,545.0 L940.7,545.0 L944.2,536.0 L947.7,545.0 L947.1,545.0 L947.1,559.0Z" fill="#e5213a"/><path d="M954.6,485.3 Q964,480 973.3,478 M954.6,544.4 Q964,540 973.3,538.2" fill="none" stroke="#0b0b0b" stroke-width="5"/><path d="M766,498.8 L778.4,498.8 M766,553.7 L778.4,553.7 M855,497 L866.5,494.5 M855,553 L866.5,551" stroke="#0b0b0b" stroke-width="6"/><path d="M757.6,568.2 L757.6,488.5 Q758.0,477.6 761.8,466.7 Q765.6,477.6 766.0,488.5 L766.0,568.2Z" fill="#0b0b0b"/><path d="M866.5,561.0 L866.5,492.6 Q866.9,483.3 870.1,473.9 Q873.3,483.3 873.7,492.6 L873.7,561.0Z" fill="#0b0b0b"/><path d="M948.4,555.8 L948.4,484.8 Q948.7,476.8 951.5,468.7 Q954.3,476.8 954.6,484.8 L954.6,555.8Z" fill="#0b0b0b"/><path d="M973.2,544.4 L973.2,464.4 Q973.7,453.6 977.4,442.8 Q981.1,453.6 981.5,464.4 L981.5,544.4Z" fill="#0b0b0b"/><path d="M406.5,490.8 Q414,490 420.6,493 Q398,510 386.9,535.3 L402,540.8 L355.4,573.3 L348.9,527.7 L371.7,529.9 Q385,505 406.5,490.8 Z" fill="#0e3a48" opacity="0.3" transform="translate(8,12)" filter="url(#b6)"/><path d="M406.5,490.8 Q414,490 420.6,493 Q398,510 386.9,535.3 L402,540.8 L355.4,573.3 L348.9,527.7 L371.7,529.9 Q385,505 406.5,490.8 Z" fill="url(#gArrD1)" stroke="#f4f6f6" stroke-width="2" stroke-linejoin="miter"/><path d="M486.8,495.1 L509.6,495.1 Q528,512 532,541 L544.4,540.8 L523.8,585.3 L491.2,545.1 L508.6,544 Q506,514 486.8,495.1 Z" fill="#0e3a48" opacity="0.3" transform="translate(8,12)" filter="url(#b6)"/><path d="M486.8,495.1 L509.6,495.1 Q528,512 532,541 L544.4,540.8 L523.8,585.3 L491.2,545.1 L508.6,544 Q506,514 486.8,495.1 Z" fill="url(#gArrD2)" stroke="#f4f6f6" stroke-width="2" stroke-linejoin="miter"/><path d="M818.8,527.8 L839.5,526.8 Q826,550 824,578.6 L836.4,579.7 L811.5,618 L793.9,574.5 L803.2,575.1 Q804,548 818.8,527.8 Z" fill="#0e3a48" opacity="0.3" transform="translate(8,12)" filter="url(#b6)"/><path d="M818.8,527.8 L839.5,526.8 Q826,550 824,578.6 L836.4,579.7 L811.5,618 L793.9,574.5 L803.2,575.1 Q804,548 818.8,527.8 Z" fill="url(#gArrD3)" stroke="#f4f6f6" stroke-width="2" stroke-linejoin="miter"/><path d="M898.6,521.6 L920.4,520.6 Q941,540 948.4,567.2 L962.9,565.1 L950.4,607.6 L912,571.4 L926.6,569.3 Q917,542 898.6,521.6 Z" fill="#0e3a48" opacity="0.3" transform="translate(8,12)" filter="url(#b6)"/><path d="M898.6,521.6 L920.4,520.6 Q941,540 948.4,567.2 L962.9,565.1 L950.4,607.6 L912,571.4 L926.6,569.3 Q917,542 898.6,521.6 Z" fill="url(#gArrD4)" stroke="#f4f6f6" stroke-width="2" stroke-linejoin="miter"/><path d="M368.9,460.0 C368.9,446.8 381.2,441.7 401.4,441.7 C421.5,441.7 433.9,446.8 433.9,460.0 C433.9,473.2 421.5,478.3 401.4,478.3 C381.2,478.3 368.9,473.2 368.9,460.0 Z" fill="url(#gTet)"/><text x="400.2" y="470.8" font-size="30" text-anchor="middle" textLength="38" lengthAdjust="spacingAndGlyphs" font-family="Liberation Sans, sans-serif" fill="#050505">Tet</text><path d="M476.7,472.8 C476.7,459.6 489.1,454.5 509.2,454.5 C529.4,454.5 541.7,459.6 541.7,472.8 C541.7,486.0 529.4,491.1 509.2,491.1 C489.1,491.1 476.7,486.0 476.7,472.8 Z" fill="url(#gTet)"/><text x="508.0" y="483.6" font-size="30" text-anchor="middle" textLength="38" lengthAdjust="spacingAndGlyphs" font-family="Liberation Sans, sans-serif" fill="#050505">Tet</text><path d="M785.2,497.4 C785.2,484.2 797.6,479.1 817.7,479.1 C837.9,479.1 850.2,484.2 850.2,497.4 C850.2,510.6 837.9,515.7 817.7,515.7 C797.6,515.7 785.2,510.6 785.2,497.4 Z" fill="url(#gTet)"/><text x="816.5" y="508.2" font-size="30" text-anchor="middle" textLength="38" lengthAdjust="spacingAndGlyphs" font-family="Liberation Sans, sans-serif" fill="#050505">Tet</text><path d="M880.8,489.9 C880.8,476.7 893.1,471.6 913.3,471.6 C933.4,471.6 945.8,476.7 945.8,489.9 C945.8,503.1 933.4,508.2 913.3,508.2 C893.1,508.2 880.8,503.1 880.8,489.9 Z" fill="url(#gTet)"/><text x="912.1" y="500.7" font-size="30" text-anchor="middle" textLength="38" lengthAdjust="spacingAndGlyphs" font-family="Liberation Sans, sans-serif" fill="#050505">Tet</text><ellipse cx="466.6" cy="442.6" rx="18.1" ry="9.5" fill="#1d4a5a" opacity="0.35" filter="url(#b3)"/><circle cx="461.8" cy="432.1" r="19.0" fill="url(#gOr)"/><ellipse cx="808.6" cy="464.5" rx="17.8" ry="9.3" fill="#1d4a5a" opacity="0.35" filter="url(#b3)"/><circle cx="803.9" cy="454.2" r="18.7" fill="url(#gOr)"/><ellipse cx="336.3" cy="696.4" rx="28.5" ry="15.0" fill="#1d4a5a" opacity="0.35" filter="url(#b3)"/><circle cx="328.8" cy="679.9" r="30.0" fill="url(#gGr)"/><ellipse cx="539.1" cy="704.4" rx="29.1" ry="15.3" fill="#1d4a5a" opacity="0.35" filter="url(#b3)"/><circle cx="531.5" cy="687.6" r="30.6" fill="url(#gBl)"/><ellipse cx="868.2" cy="712.5" rx="27.5" ry="14.5" fill="#1d4a5a" opacity="0.35" filter="url(#b3)"/><circle cx="861.0" cy="696.5" r="29.0" fill="url(#gPu)"/><ellipse cx="998.5" cy="701.3" rx="28.5" ry="15.0" fill="#1d4a5a" opacity="0.35" filter="url(#b3)"/><circle cx="991.0" cy="684.8" r="30.0" fill="url(#gRe)"/>
<path d="M1445,272 Q1530,300 1600,345 Q1612,352 1622,354 M1655,352 Q1680,350 1700,346 Q1790,318 1900,280" fill="none" stroke="#2d7584" stroke-width="6" opacity="0.45" filter="url(#b3)"/><path d="M1441.8,262.2 L1469.5,270.1 M1522.8,296.8 Q1530,303 1539.6,310.6 M1597.8,346 Q1610,350 1621.5,352 M1697,339.2 L1738.9,332.5 M1796.8,307.3 L1821,299 M1872.3,278.8 L1891.6,272.1" stroke="#26312f" stroke-width="3.5" fill="none"/><path d="M1442.8,216.8 L1451.7,229.6 L1451.7,278.0 L1442.8,278.0 Z" fill="#26312f" /><path d="M1469.5,259.2 L1474.4,262.0 L1474.4,274.0 L1469.5,274.0 Z" fill="#5ab44b" /><path d="M1491.0,286.0 L1496.0,283.0 L1496.0,296.0 L1491.0,296.0 Z" fill="#5ab44b" /><path d="M1497.0,278.0 L1502.0,275.0 L1502.0,292.0 L1497.0,292.0 Z" fill="#5ab44b" /><path d="M1503.0,272.0 L1508.0,269.0 L1508.0,294.0 L1503.0,294.0 Z" fill="#5ab44b" /><path d="M1508.0,266.0 L1513.0,263.0 L1513.0,295.0 L1508.0,295.0 Z" fill="#5ab44b" /><path d="M1516.9,275.0 L1522.8,280.0 L1522.8,301.7 L1516.9,301.7 Z" fill="#26312f" /><path d="M1539.6,290.8 L1545.5,295.0 L1545.5,317.5 L1539.6,317.5 Z" fill="#26312f" /><path d="M1546.5,290.0 L1551.0,295.0 L1551.0,325.0 L1546.5,325.0 Z" fill="#3391d5" /><path d="M1576.0,330.0 L1581.0,324.0 L1581.0,346.0 L1576.0,346.0 Z" fill="#3391d5" /><path d="M1582.0,311.6 L1590.0,318.0 L1590.0,346.0 L1582.0,346.0 Z" fill="#3391d5" /><path d="M1592.0,302.7 L1597.8,306.0 L1597.8,352.0 L1592.0,352.0 Z" fill="#26312f" /><path d="M1624.5,331.3 L1631.4,337.0 L1631.4,360.0 L1624.5,360.0 Z" fill="#e6c822" /><path d="M1682.7,309.0 L1689.4,314.0 L1689.4,350.1 L1682.7,350.1 Z" fill="#e6c822" /><path d="M1691.0,301.5 L1697.0,306.0 L1697.0,348.5 L1691.0,348.5 Z" fill="#26312f" /><path d="M1722.0,311.5 L1728.0,316.0 L1728.0,342.6 L1722.0,342.6 Z" fill="#26312f" /><path d="M1733.8,320.0 L1739.7,323.0 L1739.7,340.0 L1733.8,340.0 Z" fill="#26312f" /><path d="M1741.0,318.0 L1748.0,311.0 L1748.0,337.0 L1741.0,337.0 Z" fill="#7652a3" /><path d="M1750.0,314.0 L1756.0,320.0 L1756.0,337.0 L1750.0,337.0 Z" fill="#7652a3" /><path d="M1757.0,322.0 L1764.0,330.0 L1764.0,335.0 L1757.0,335.0 Z" fill="#7652a3" /><path d="M1791.0,305.7 L1796.8,307.0 L1796.8,317.4 L1791.0,317.4 Z" fill="#26312f" /><path d="M1819.4,278.8 L1826.2,282.0 L1826.2,306.5 L1819.4,306.5 Z" fill="#26312f" /><path d="M1826.0,285.5 L1843.8,298.0 L1835.0,303.0 L1826.0,303.0 Z" fill="#e5213a" /><path d="M1865.6,263.7 L1872.3,265.0 L1872.3,286.4 L1865.6,286.4 Z" fill="#e5213a" /><path d="M1890.8,250.0 L1900.0,235.2 L1900.0,281.3 L1890.8,281.3 Z" fill="#26312f" /><path d="M1454.2,285.0 L1459.8,287.0" stroke="#5ab44b" stroke-width="3.2" stroke-linecap="round"/><path d="M1468.2,298.2 L1475.8,291.8" stroke="#5ab44b" stroke-width="3.2" stroke-linecap="round"/><path d="M1474.8,300.0 L1485.2,294.0" stroke="#5ab44b" stroke-width="3.2" stroke-linecap="round"/><path d="M1481.5,295.7 L1486.5,304.3" stroke="#5ab44b" stroke-width="3.2" stroke-linecap="round"/><path d="M1532.1,322.1 L1533.9,331.9" stroke="#3391d5" stroke-width="3.4" stroke-linecap="round"/><path d="M1532.0,347.1 L1558.0,344.9" stroke="#3391d5" stroke-width="3.4" stroke-linecap="round"/><path d="M1540.4,338.2 L1543.6,349.8" stroke="#3391d5" stroke-width="3.4" stroke-linecap="round"/><path d="M1554.6,358.0 L1575.4,346.0" stroke="#3391d5" stroke-width="3.4" stroke-linecap="round"/><path d="M1576.5,357.0 L1579.5,357.0" stroke="#3391d5" stroke-width="3.4" stroke-linecap="round"/><path d="M1626.0,366.5 L1630.0,373.5" stroke="#e6c822" stroke-width="3.2" stroke-linecap="round"/><path d="M1620.2,373.4 L1627.8,370.6" stroke="#e6c822" stroke-width="3.2" stroke-linecap="round"/><path d="M1632.5,368.3 L1639.5,367.7" stroke="#e6c822" stroke-width="3.2" stroke-linecap="round"/><path d="M1687.6,364.2 L1690.4,371.8" stroke="#e6c822" stroke-width="3.2" stroke-linecap="round"/><path d="M1696.1,365.3 L1703.9,366.7" stroke="#e6c822" stroke-width="3.2" stroke-linecap="round"/><path d="M1709.0,364.0 L1717.0,364.0" stroke="#e6c822" stroke-width="3.2" stroke-linecap="round"/><path d="M1697.5,371.0 L1698.5,377.0" stroke="#e6c822" stroke-width="3.2" stroke-linecap="round"/><path d="M1775.4,310.6 L1788.6,315.4" stroke="#7652a3" stroke-width="3.4" stroke-linecap="round"/><path d="M1770.4,332.4 L1783.6,327.6" stroke="#7652a3" stroke-width="3.4" stroke-linecap="round"/><path d="M1775.0,326.5 L1779.0,333.5" stroke="#7652a3" stroke-width="3.4" stroke-linecap="round"/><path d="M1741.5,354.0 L1748.5,350.0" stroke="#7652a3" stroke-width="3.4" stroke-linecap="round"/><path d="M1756.0,344.1 L1758.0,355.9" stroke="#7652a3" stroke-width="3.4" stroke-linecap="round"/><path d="M1753.0,342.5 L1759.0,343.5" stroke="#7652a3" stroke-width="3.4" stroke-linecap="round"/><path d="M1841.4,312.4 L1854.6,307.6" stroke="#e5213a" stroke-width="3.2" stroke-linecap="round"/><path d="M1850.0,306.5 L1854.0,313.5" stroke="#e5213a" stroke-width="3.2" stroke-linecap="round"/><path d="M1827.3,314.1 L1828.7,321.9" stroke="#e5213a" stroke-width="3.2" stroke-linecap="round"/><path d="M1874.1,299.0 L1885.9,301.0" stroke="#e5213a" stroke-width="3.2" stroke-linecap="round"/><path d="M1881.4,304.5 L1886.6,307.5" stroke="#e5213a" stroke-width="3.2" stroke-linecap="round"/><circle cx="1649.8" cy="272.0" r="16.8" fill="url(#gOr)"/><ellipse cx="1457.6" cy="347.1" rx="18.7" ry="9.8" fill="#1d4a5a" opacity="0.3" filter="url(#b3)"/><g><circle cx="1452.7" cy="336.3" r="19.7" fill="#ee7c8c"/><circle cx="1452.7" cy="334.8" r="18.3" fill="#f29aa8"/><circle cx="1452.4" cy="333.5" r="16.5" fill="#ac8ac6"/><circle cx="1452.1" cy="331.4" r="13.0" fill="#96cdf2"/><circle cx="1451.7" cy="329.9" r="9.5" fill="#a6d6a4"/><circle cx="1451.3" cy="328.8" r="5.5" fill="#f6e67a"/><circle cx="1449.7" cy="326.9" r="2.6" fill="#ffffff" opacity="0.85" filter="url(#b1)"/></g><ellipse cx="1676.2" cy="426.8" rx="19.0" ry="10.0" fill="#1d4a5a" opacity="0.3" filter="url(#b3)"/><g><circle cx="1671.2" cy="415.8" r="20.0" fill="#ee7c8c"/><circle cx="1671.2" cy="414.3" r="18.6" fill="#f29aa8"/><circle cx="1670.9" cy="413.0" r="16.8" fill="#ac8ac6"/><circle cx="1670.6" cy="410.8" r="13.2" fill="#96cdf2"/><circle cx="1670.2" cy="409.3" r="9.6" fill="#a6d6a4"/><circle cx="1669.8" cy="408.2" r="5.6" fill="#f6e67a"/><circle cx="1668.2" cy="406.3" r="2.6" fill="#ffffff" opacity="0.85" filter="url(#b1)"/></g><ellipse cx="1892.4" cy="359.5" rx="19.0" ry="10.0" fill="#1d4a5a" opacity="0.3" filter="url(#b3)"/><g><circle cx="1887.4" cy="348.5" r="20.0" fill="#ee7c8c"/><circle cx="1887.4" cy="347.0" r="18.6" fill="#f29aa8"/><circle cx="1887.1" cy="345.7" r="16.8" fill="#ac8ac6"/><circle cx="1886.8" cy="343.5" r="13.2" fill="#96cdf2"/><circle cx="1886.4" cy="342.0" r="9.6" fill="#a6d6a4"/><circle cx="1886.0" cy="340.9" r="5.6" fill="#f6e67a"/><circle cx="1884.4" cy="339.0" r="2.6" fill="#ffffff" opacity="0.85" filter="url(#b1)"/></g><path d="M1376,505 Q1400,512 1425,523 M1492,556 L1527,543 M1616,556 L1626,556 M1816,576 L1826,576 M1928,569 L1934,569 M2009,563 L2042,551" stroke="#0a3040" stroke-width="8" fill="none" opacity="0.3" filter="url(#b3)"/><path d="M1376.0,470.0 L1384.3,461.0 L1384.3,503.7 L1376.0,503.7 Z" fill="#0b0b0b" /><path d="M1384,488.6 Q1396,490 1406,495 L1419,499" stroke="#0b0b0b" stroke-width="6" fill="none"/><path d="M1405.0,485.0 L1411.0,489.0 L1411.0,510.0 L1405.0,510.0 Z" fill="#0b0b0b" /><path d="M1418.8,480.0 L1425.5,490.0 L1425.5,521.0 L1418.8,521.0 Z" fill="#0b0b0b" /><path d="M1427.0,497.0 L1430.0,500.0 L1430.0,512.0 L1427.0,512.0 Z" fill="#5ab44b" /><path d="M1492.6,516.3 L1499.3,518.0 L1499.3,554.0 L1492.6,554.0 Z" fill="#0b0b0b" /><path d="M1499,548 L1520,536" stroke="#0b0b0b" stroke-width="6"/><path d="M1519.5,509.6 L1527.0,516.0 L1527.0,541.5 L1519.5,541.5 Z" fill="#0b0b0b" /><path d="M1527.0,514.0 L1531.0,518.0 L1531.0,528.0 L1527.0,528.0 Z" fill="#3391d5" /><path d="M1616.8,527.0 L1625.2,535.0 L1625.2,553.0 L1616.8,553.0 Z" fill="#0b0b0b" /><path d="M1601.7,549 L1617,549" stroke="#0b0b0b" stroke-width="6"/><path d="M1469.0,540.0 L1479.0,540.0" stroke="#5ab44b" stroke-width="3.6" stroke-linecap="round"/><path d="M1481.3,534.1 L1482.7,541.9" stroke="#5ab44b" stroke-width="3.6" stroke-linecap="round"/><path d="M1487.5,533.0 L1488.5,539.0" stroke="#5ab44b" stroke-width="3.6" stroke-linecap="round"/><path d="M1408.2,546.6 L1419.8,543.4" stroke="#5ab44b" stroke-width="3.6" stroke-linecap="round"/><path d="M1407.5,552.0 L1414.5,556.0" stroke="#5ab44b" stroke-width="3.6" stroke-linecap="round"/><path d="M1463.5,559.7 L1468.5,568.3" stroke="#5ab44b" stroke-width="3.6" stroke-linecap="round"/><path d="M1478.0,565.7 L1494.0,564.3" stroke="#5ab44b" stroke-width="3.6" stroke-linecap="round"/><path d="M1533.0,525.1 L1535.0,536.9" stroke="#3391d5" stroke-width="3.6" stroke-linecap="round"/><path d="M1547.4,553.5 L1552.6,556.5" stroke="#3391d5" stroke-width="3.6" stroke-linecap="round"/><path d="M1576.3,541.1 L1577.7,548.9" stroke="#3391d5" stroke-width="3.6" stroke-linecap="round"/><path d="M1585.0,535.1 L1587.0,546.9" stroke="#3391d5" stroke-width="3.6" stroke-linecap="round"/><path d="M1516.2,556.0 L1521.8,554.0" stroke="#3391d5" stroke-width="3.6" stroke-linecap="round"/><path d="M1545.5,548.0 L1550.5,548.0" stroke="#3391d5" stroke-width="3.6" stroke-linecap="round"/><path d="M1816.6,553.0 L1825.3,547.0 L1825.3,574.8 L1816.6,574.8 Z" fill="#0b0b0b" /><path d="M1825,559 L1838.7,559" stroke="#0b0b0b" stroke-width="6"/><path d="M1928.0,518.7 L1934.3,525.0 L1934.3,567.7 L1928.0,567.7 Z" fill="#0b0b0b" /><path d="M1915.3,557.4 L1928,555" stroke="#0b0b0b" stroke-width="6"/><path d="M2009.0,521.0 L2014.8,528.0 L2014.8,562.0 L2009.0,562.0 Z" fill="#0b0b0b" /><path d="M2014.8,548 Q2028,542 2036,536" stroke="#0b0b0b" stroke-width="6" fill="none"/><path d="M2033.8,532.0 L2042.5,527.4 L2042.5,549.5 L2033.8,549.5 Z" fill="#0b0b0b" /><path d="M1842.0,550.0 L1847.0,552.0 L1847.0,567.0 L1842.0,567.0 Z" fill="#7652a3" /><path d="M1890.0,555.0 L1897.0,557.0 L1897.0,572.0 L1890.0,572.0 Z" fill="#7652a3" /><path d="M1898.0,551.0 L1904.0,553.0 L1904.0,571.0 L1898.0,571.0 Z" fill="#7652a3" /><path d="M1906.0,555.0 L1912.0,557.0 L1912.0,573.0 L1906.0,573.0 Z" fill="#7652a3" /><path d="M1936.0,530.0 L1942.0,532.0 L1942.0,566.0 L1936.0,566.0 Z" fill="#e5213a" /><path d="M1998.0,532.0 L2003.0,534.0 L2003.0,561.0 L1998.0,561.0 Z" fill="#e5213a" /><path d="M1992.0,534.0 L1997.0,536.0 L1997.0,558.0 L1992.0,558.0 Z" fill="#e5213a" /><path d="M1985.0,541.0 L1990.0,543.0 L1990.0,556.0 L1985.0,556.0 Z" fill="#e5213a" /><path d="M1836.3,587.1 L1837.7,594.9" stroke="#7652a3" stroke-width="3.6" stroke-linecap="round"/><path d="M1848.1,592.9 L1857.9,591.1" stroke="#7652a3" stroke-width="3.6" stroke-linecap="round"/><path d="M1888.3,596.7 L1897.7,593.3" stroke="#7652a3" stroke-width="3.6" stroke-linecap="round"/><path d="M1902.7,595.5 L1911.3,600.5" stroke="#7652a3" stroke-width="3.6" stroke-linecap="round"/><path d="M1935.0,579.5 L1941.0,580.5" stroke="#e5213a" stroke-width="3.6" stroke-linecap="round"/><path d="M1951.1,582.9 L1960.9,581.1" stroke="#e5213a" stroke-width="3.6" stroke-linecap="round"/><path d="M1957.0,586.5 L1961.0,593.5" stroke="#e5213a" stroke-width="3.6" stroke-linecap="round"/><path d="M1957.2,596.0 L1962.8,598.0" stroke="#e5213a" stroke-width="3.6" stroke-linecap="round"/><path d="M1455,527 Q1462,526 1466,529 Q1448,542 1437,569 L1446.5,574.2 L1398.6,607.8 L1393.6,561.6 L1418,566 Q1430,540 1455,527 Z" fill="#0e3a48" opacity="0.3" transform="translate(8,12)" filter="url(#b6)"/><path d="M1455,527 Q1462,526 1466,529 Q1448,542 1437,569 L1446.5,574.2 L1398.6,607.8 L1393.6,561.6 L1418,566 Q1430,540 1455,527 Z" fill="url(#gArrD1r)" stroke="#f4f6f6" stroke-width="2" stroke-linejoin="miter"/><path d="M1541.3,529 L1555,528 Q1571,548 1581,573 L1606,571 L1593.3,615.4 L1553,577.6 L1568,575 Q1558,550 1541.3,529 Z" fill="#0e3a48" opacity="0.3" transform="translate(8,12)" filter="url(#b6)"/><path d="M1541.3,529 L1555,528 Q1571,548 1581,573 L1606,571 L1593.3,615.4 L1553,577.6 L1568,575 Q1558,550 1541.3,529 Z" fill="url(#gArrD2r)" stroke="#f4f6f6" stroke-width="2" stroke-linejoin="miter"/><path d="M1875,537 L1893,536 Q1886,560 1886,586 L1899.5,585.8 L1882,632.4 L1857.7,591.4 L1871,590 Q1868,560 1875,537 Z" fill="#0e3a48" opacity="0.3" transform="translate(8,12)" filter="url(#b6)"/><path d="M1875,537 L1893,536 Q1886,560 1886,586 L1899.5,585.8 L1882,632.4 L1857.7,591.4 L1871,590 Q1868,560 1875,537 Z" fill="url(#gArrD3r)" stroke="#f4f6f6" stroke-width="2" stroke-linejoin="miter"/><path d="M1945,537 L1963,537 Q1983,555 1995,582 L2013.2,581 L2000.6,624.5 L1959.5,587.4 L1979,585 Q1968,558 1945,537 Z" fill="#0e3a48" opacity="0.3" transform="translate(8,12)" filter="url(#b6)"/><path d="M1945,537 L1963,537 Q1983,555 1995,582 L2013.2,581 L2000.6,624.5 L1959.5,587.4 L1979,585 Q1968,558 1945,537 Z" fill="url(#gArrD4r)" stroke="#f4f6f6" stroke-width="2" stroke-linejoin="miter"/><path d="M1419.4,526.0 L1453.4,560.0 M1419.4,560.0 L1453.4,526.0" stroke="#ffffff" stroke-width="12.0" stroke-linecap="butt"/><path d="M1419.4,526.0 L1453.4,560.0 M1419.4,560.0 L1453.4,526.0" stroke="#ec6262" stroke-width="8.0"/><path d="M1552.0,536.2 L1586.0,570.2 M1552.0,570.2 L1586.0,536.2" stroke="#ffffff" stroke-width="12.0" stroke-linecap="butt"/><path d="M1552.0,536.2 L1586.0,570.2 M1552.0,570.2 L1586.0,536.2" stroke="#ec6262" stroke-width="8.0"/><path d="M1860.4,549.0 L1894.4,583.0 M1860.4,583.0 L1894.4,549.0" stroke="#ffffff" stroke-width="12.0" stroke-linecap="butt"/><path d="M1860.4,549.0 L1894.4,583.0 M1860.4,583.0 L1894.4,549.0" stroke="#ec6262" stroke-width="8.0"/><path d="M1958.3,543.6 L1992.3,577.6 M1958.3,577.6 L1992.3,543.6" stroke="#ffffff" stroke-width="12.0" stroke-linecap="butt"/><path d="M1958.3,543.6 L1992.3,577.6 M1958.3,577.6 L1992.3,543.6" stroke="#ec6262" stroke-width="8.0"/><ellipse cx="1400.4" cy="703.4" rx="30.4" ry="16.0" fill="#1d4a5a" opacity="0.3" filter="url(#b3)"/><circle cx="1392.4" cy="685.8" r="32.0" fill="url(#gGrF)"/><circle cx="1394.4" cy="688.8" r="17.6" fill="#7ac8d8" opacity="0.35" filter="url(#b6)"/><circle cx="1392.4" cy="685.8" r="32.0" fill="none" stroke="#ffffff" stroke-width="2.6" stroke-dasharray="8 4.5"/><ellipse cx="1606.3" cy="709.9" rx="30.4" ry="16.0" fill="#1d4a5a" opacity="0.3" filter="url(#b3)"/><circle cx="1598.3" cy="692.3" r="32.0" fill="url(#gBlF)"/><circle cx="1600.3" cy="695.3" r="17.6" fill="#7ac8d8" opacity="0.35" filter="url(#b6)"/><circle cx="1598.3" cy="692.3" r="32.0" fill="none" stroke="#ffffff" stroke-width="2.6" stroke-dasharray="8 4.5"/><ellipse cx="1929.8" cy="717.0" rx="29.4" ry="15.5" fill="#1d4a5a" opacity="0.3" filter="url(#b3)"/><circle cx="1922.0" cy="700.0" r="31.0" fill="url(#gPuF)"/><circle cx="1924.0" cy="703.0" r="17.1" fill="#7ac8d8" opacity="0.35" filter="url(#b6)"/><circle cx="1922.0" cy="700.0" r="31.0" fill="none" stroke="#ffffff" stroke-width="2.6" stroke-dasharray="8 4.5"/><ellipse cx="2059.8" cy="702.8" rx="29.4" ry="15.5" fill="#1d4a5a" opacity="0.3" filter="url(#b3)"/><circle cx="2052.0" cy="685.8" r="31.0" fill="url(#gReF)"/><circle cx="2054.0" cy="688.8" r="17.1" fill="#7ac8d8" opacity="0.35" filter="url(#b6)"/><circle cx="2052.0" cy="685.8" r="31.0" fill="none" stroke="#ffffff" stroke-width="2.6" stroke-dasharray="8 4.5"/><path d="M2080,527 C2077,512 2088,503 2101,503.5 C2112,504 2118,512 2116.5,522 L2110,526 C2105,519 2100,514 2096.7,513.2 C2092,518 2087,523 2080,527 Z" fill="url(#gHood)" stroke="#2e9e3a" stroke-width="1.6"/><path d="M2074,540 C2072,531 2078,527 2085,524 C2090,519 2094,514 2096.7,513.2 C2102,516 2106,523 2112,527 C2118,531 2124,534 2126,538.5 C2124,546 2122,555 2115,562 C2110,568 2104,571 2100.6,570.5 C2092,568 2082,562 2077,555 C2073,550 2073,545 2074,540 Z" fill="url(#gBlob)" stroke="#2e9e3a" stroke-width="2"/>
<g><rect x="249.0" y="51.3" width="236.0" height="56.3" rx="9" fill="#8a6db4"/><rect x="258.0" y="61.3" width="218.0" height="36.3" rx="14" fill="#e0d6ec" filter="url(#b6)"/></g>
<circle cx="538.3" cy="82.2" r="26.0" fill="url(#gOocyte)" stroke="#22a52a" stroke-width="3.2"/><path d="M515.3,74.2 Q538.3,86.2 561.3,74.2" fill="none" stroke="#22a52a" stroke-width="3"/><path d="M516.3,73.2 Q538.3,50.2 560.3,73.2 Q538.3,85.2 516.3,73.2 Z" fill="#b9e0b0" opacity="0.8"/><circle cx="538.3" cy="65.2" r="3" fill="#7cc070"/>
<path d="M650.0,76.0 q1,8 10,11 q10,3 22,6 q6,2 8,6" fill="none" stroke="#2aa52e" stroke-width="2.8" stroke-linecap="round"/><ellipse cx="691.0" cy="96.0" rx="6.5" ry="4.2" transform="rotate(25 691.0 96.0)" fill="#cfe6de" stroke="#2aa52e" stroke-width="2.4"/>
<path d="M511.0,118.0 Q579.0,143.0 587.0,200.0 L605.5,200.0 Q613.5,143.0 684.0,118.0 Z" fill="url(#gFunnel)"/>
<circle cx="297.9" cy="297.5" r="26.5" fill="url(#gEmb)" stroke="#2aa52e" stroke-width="1.6"/><clipPath id="cap297"><path d="M273,290 C270,274 280,259.6 298,259.6 C316,259.6 326,274 324,291 C318,287 312,293 306,289 C300,292 294,287 288,291 C282,288 278,293 273,290 Z"/></clipPath><g transform="translate(0.0,0.0)"><path d="M273,290 C270,274 280,259.6 298,259.6 C316,259.6 326,274 324,291 C318,287 312,293 306,289 C300,292 294,287 288,291 C282,288 278,293 273,290 Z" fill="#bcd8dc"/><g clip-path="url(#cap297)" fill="none" stroke="#2aab32" stroke-width="1.0"><ellipse cx="270.3" cy="258.4" rx="2.4" ry="2.1"/><ellipse cx="274.6" cy="258.5" rx="2.7" ry="1.8"/><ellipse cx="280.0" cy="258.3" rx="2.4" ry="1.9"/><ellipse cx="284.3" cy="258.1" rx="2.9" ry="2.1"/><ellipse cx="288.8" cy="258.4" rx="2.7" ry="2.3"/><ellipse cx="293.6" cy="258.4" rx="2.7" ry="1.8"/><ellipse cx="298.3" cy="258.3" rx="2.4" ry="1.8"/><ellipse cx="302.8" cy="258.6" rx="2.8" ry="2.3"/><ellipse cx="307.2" cy="258.6" rx="2.5" ry="2.3"/><ellipse cx="311.5" cy="258.1" rx="2.9" ry="1.9"/><ellipse cx="316.5" cy="258.2" rx="3.0" ry="2.1"/><ellipse cx="320.9" cy="258.4" rx="2.6" ry="2.0"/><ellipse cx="325.7" cy="258.6" rx="2.7" ry="2.3"/><ellipse cx="272.8" cy="262.0" rx="2.9" ry="2.4"/><ellipse cx="277.6" cy="262.2" rx="2.9" ry="2.4"/><ellipse cx="282.2" cy="262.2" rx="2.8" ry="1.9"/><ellipse cx="286.8" cy="262.5" rx="2.4" ry="1.8"/><ellipse cx="291.0" cy="262.0" rx="2.3" ry="2.3"/><ellipse cx="296.0" cy="261.9" rx="2.4" ry="2.3"/><ellipse cx="300.5" cy="262.1" rx="2.7" ry="1.8"/><ellipse cx="304.9" cy="262.5" rx="2.9" ry="2.4"/><ellipse cx="309.6" cy="261.9" rx="2.4" ry="1.8"/><ellipse cx="314.2" cy="262.0" rx="2.4" ry="2.0"/><ellipse cx="318.6" cy="262.5" rx="2.2" ry="2.3"/><ellipse cx="323.3" cy="262.2" rx="2.9" ry="2.0"/><ellipse cx="327.9" cy="262.3" rx="2.7" ry="2.2"/><ellipse cx="270.3" cy="266.2" rx="3.0" ry="2.1"/><ellipse cx="275.4" cy="266.1" rx="2.4" ry="2.0"/><ellipse cx="279.5" cy="266.1" rx="2.6" ry="1.8"/><ellipse cx="284.3" cy="265.8" rx="2.2" ry="2.2"/><ellipse cx="288.9" cy="266.0" rx="2.7" ry="2.1"/><ellipse cx="293.0" cy="265.8" rx="2.8" ry="2.2"/><ellipse cx="297.8" cy="266.1" rx="2.7" ry="2.4"/><ellipse cx="302.5" cy="266.0" rx="2.7" ry="2.0"/><ellipse cx="307.0" cy="266.0" rx="2.5" ry="2.2"/><ellipse cx="311.9" cy="266.2" rx="2.8" ry="1.8"/><ellipse cx="316.6" cy="265.9" rx="2.4" ry="1.9"/><ellipse cx="321.2" cy="265.9" rx="2.3" ry="2.1"/><ellipse cx="325.9" cy="266.1" rx="2.5" ry="2.0"/><ellipse cx="272.6" cy="270.1" rx="2.9" ry="1.9"/><ellipse cx="277.1" cy="269.8" rx="2.9" ry="2.1"/><ellipse cx="282.1" cy="270.2" rx="2.6" ry="1.9"/><ellipse cx="286.7" cy="270.1" rx="2.3" ry="2.0"/><ellipse cx="290.8" cy="269.9" rx="2.8" ry="2.0"/><ellipse cx="295.6" cy="270.0" rx="2.8" ry="2.0"/><ellipse cx="300.6" cy="269.8" rx="2.5" ry="2.0"/><ellipse cx="305.2" cy="270.3" rx="2.2" ry="2.4"/><ellipse cx="309.8" cy="269.8" rx="2.5" ry="2.4"/><ellipse cx="314.2" cy="270.0" rx="2.8" ry="2.3"/><ellipse cx="318.5" cy="269.7" rx="2.4" ry="2.0"/><ellipse cx="323.5" cy="269.7" rx="2.7" ry="2.0"/><ellipse cx="328.2" cy="270.2" rx="2.9" ry="2.2"/><ellipse cx="270.0" cy="274.0" rx="2.9" ry="2.1"/><ellipse cx="275.1" cy="273.9" rx="2.3" ry="2.0"/><ellipse cx="279.7" cy="273.8" rx="2.5" ry="2.4"/><ellipse cx="284.2" cy="274.1" rx="2.4" ry="2.3"/><ellipse cx="288.8" cy="274.1" rx="2.5" ry="1.9"/><ellipse cx="293.7" cy="274.1" rx="2.3" ry="2.3"/><ellipse cx="298.1" cy="274.1" rx="2.9" ry="1.8"/><ellipse cx="302.4" cy="273.9" rx="2.2" ry="2.0"/><ellipse cx="307.4" cy="273.6" rx="2.5" ry="2.1"/><ellipse cx="311.5" cy="273.6" rx="2.2" ry="1.9"/><ellipse cx="316.1" cy="273.9" rx="3.0" ry="2.3"/><ellipse cx="320.9" cy="274.0" rx="2.5" ry="2.0"/><ellipse cx="325.4" cy="273.8" rx="2.7" ry="2.0"/><ellipse cx="272.9" cy="277.7" rx="2.3" ry="2.1"/><ellipse cx="277.2" cy="277.9" rx="2.3" ry="1.9"/><ellipse cx="282.1" cy="277.9" rx="2.8" ry="2.0"/><ellipse cx="286.5" cy="277.9" rx="2.5" ry="2.0"/><ellipse cx="291.1" cy="277.6" rx="2.5" ry="2.2"/><ellipse cx="295.4" cy="277.8" rx="2.6" ry="2.2"/><ellipse cx="300.6" cy="277.7" rx="2.5" ry="2.3"/><ellipse cx="304.7" cy="277.8" rx="2.9" ry="2.3"/><ellipse cx="309.6" cy="278.0" rx="2.3" ry="2.3"/><ellipse cx="314.3" cy="277.8" rx="2.8" ry="2.2"/><ellipse cx="318.3" cy="277.6" rx="2.3" ry="2.2"/><ellipse cx="323.0" cy="277.6" rx="2.8" ry="1.8"/><ellipse cx="327.5" cy="278.0" rx="2.9" ry="1.9"/><ellipse cx="270.5" cy="281.9" rx="2.3" ry="2.3"/><ellipse cx="275.2" cy="281.4" rx="3.0" ry="2.1"/><ellipse cx="279.8" cy="281.5" rx="2.8" ry="2.1"/><ellipse cx="283.8" cy="281.6" rx="2.8" ry="2.4"/><ellipse cx="288.6" cy="281.5" rx="2.7" ry="2.3"/><ellipse cx="293.6" cy="281.6" rx="2.4" ry="2.2"/><ellipse cx="297.9" cy="281.7" rx="2.5" ry="2.0"/><ellipse cx="303.0" cy="281.6" rx="2.3" ry="2.1"/><ellipse cx="307.4" cy="281.9" rx="2.8" ry="1.9"/><ellipse cx="311.8" cy="281.8" rx="2.7" ry="2.1"/><ellipse cx="316.1" cy="281.8" rx="2.9" ry="1.9"/><ellipse cx="321.0" cy="281.8" rx="2.9" ry="2.1"/><ellipse cx="325.4" cy="281.8" rx="2.3" ry="2.0"/><ellipse cx="272.9" cy="285.9" rx="2.5" ry="1.9"/><ellipse cx="277.2" cy="285.8" rx="2.4" ry="2.2"/><ellipse cx="281.7" cy="285.3" rx="2.7" ry="2.0"/><ellipse cx="286.2" cy="285.5" rx="2.6" ry="2.0"/><ellipse cx="290.8" cy="285.9" rx="2.5" ry="2.3"/><ellipse cx="295.7" cy="285.8" rx="2.6" ry="2.2"/><ellipse cx="300.3" cy="285.7" rx="2.9" ry="2.1"/><ellipse cx="305.1" cy="285.9" rx="2.9" ry="2.0"/><ellipse cx="309.3" cy="285.7" rx="2.6" ry="1.9"/><ellipse cx="314.4" cy="285.4" rx="2.7" ry="2.4"/><ellipse cx="318.4" cy="285.7" rx="2.4" ry="2.0"/><ellipse cx="323.1" cy="285.8" rx="2.9" ry="2.3"/><ellipse cx="328.1" cy="285.4" rx="2.5" ry="2.1"/><ellipse cx="270.2" cy="289.4" rx="2.3" ry="2.3"/><ellipse cx="274.6" cy="289.4" rx="2.7" ry="2.2"/><ellipse cx="279.4" cy="289.6" rx="2.5" ry="2.1"/><ellipse cx="284.2" cy="289.3" rx="3.0" ry="2.0"/><ellipse cx="288.5" cy="289.7" rx="2.4" ry="2.2"/><ellipse cx="293.8" cy="289.4" rx="2.9" ry="1.9"/><ellipse cx="297.8" cy="289.6" rx="2.8" ry="2.3"/><ellipse cx="302.4" cy="289.7" rx="2.7" ry="2.3"/><ellipse cx="307.2" cy="289.3" rx="3.0" ry="2.2"/><ellipse cx="312.0" cy="289.6" rx="2.6" ry="2.0"/><ellipse cx="316.5" cy="289.6" rx="2.7" ry="1.9"/><ellipse cx="321.1" cy="289.3" rx="2.3" ry="2.3"/><ellipse cx="325.5" cy="289.6" rx="2.9" ry="1.9"/><ellipse cx="272.8" cy="293.4" rx="2.7" ry="2.1"/><ellipse cx="277.0" cy="293.5" rx="2.4" ry="1.9"/><ellipse cx="282.1" cy="293.3" rx="2.8" ry="2.1"/><ellipse cx="286.8" cy="293.1" rx="2.4" ry="2.0"/><ellipse cx="291.3" cy="293.3" rx="2.6" ry="1.9"/><ellipse cx="295.7" cy="293.6" rx="2.5" ry="2.0"/><ellipse cx="300.0" cy="293.3" rx="2.5" ry="2.3"/><ellipse cx="305.1" cy="293.5" rx="2.3" ry="1.9"/><ellipse cx="309.4" cy="293.5" rx="2.3" ry="1.9"/><ellipse cx="314.2" cy="293.2" rx="2.9" ry="2.2"/><ellipse cx="318.7" cy="293.4" rx="2.5" ry="1.9"/><ellipse cx="323.5" cy="293.1" rx="2.4" ry="2.0"/><ellipse cx="328.3" cy="293.3" rx="2.8" ry="2.3"/></g><path d="M273,290 C270,274 280,259.6 298,259.6 C316,259.6 326,274 324,291 C318,287 312,293 306,289 C300,292 294,287 288,291 C282,288 278,293 273,290 Z" fill="none" stroke="#2aab32" stroke-width="1.4"/></g>
<path d="M3,660 C5,646 20,643 40,643.5 L140,652 C150,654 150,660 140,660 L70,658 C62,664 55,672 40,674 C25,676 5,674 3,660 Z" fill="url(#gFish)" stroke="#30a336" stroke-width="1.8"/><path d="M5,657 C8,647 20,644 40,644 L140,652.5 C148,654 148,658 140,659 L40,654 C28,656 18,662 8,662 Z" fill="url(#gFishTop)" opacity="0.9"/><path d="M40,650 L133,656" stroke="#30a336" stroke-width="1.2"/><path d="M48.0,648.5 l5,2.5 l-5,2.5" fill="none" stroke="#30a336" stroke-width="1.1"/><path d="M57.5,649.1 l5,2.5 l-5,2.5" fill="none" stroke="#30a336" stroke-width="1.1"/><path d="M67.0,649.7 l5,2.5 l-5,2.5" fill="none" stroke="#30a336" stroke-width="1.1"/><path d="M76.5,650.3 l5,2.5 l-5,2.5" fill="none" stroke="#30a336" stroke-width="1.1"/><path d="M86.0,650.9 l5,2.5 l-5,2.5" fill="none" stroke="#30a336" stroke-width="1.1"/><path d="M95.5,651.5 l5,2.5 l-5,2.5" fill="none" stroke="#30a336" stroke-width="1.1"/><path d="M105.0,652.1 l5,2.5 l-5,2.5" fill="none" stroke="#30a336" stroke-width="1.1"/><path d="M114.5,652.7 l5,2.5 l-5,2.5" fill="none" stroke="#30a336" stroke-width="1.1"/><path d="M124.0,653.3 l5,2.5 l-5,2.5" fill="none" stroke="#30a336" stroke-width="1.1"/><circle cx="18.4" cy="662" r="7.2" fill="#111" stroke="#fff" stroke-width="1"/><circle cx="16.5" cy="659.8" r="2.4" fill="#fff"/>
<g><rect x="1316.0" y="52.5" width="234.8" height="54.0" rx="9" fill="#8a6db4"/><rect x="1325.0" y="62.5" width="216.8" height="34.0" rx="14" fill="#e0d6ec" filter="url(#b6)"/><rect x="1316.0" y="52.5" width="234.8" height="54.0" rx="9" fill="none" stroke="#7457a2" stroke-width="2" stroke-dasharray="5 3"/></g>
<circle cx="1582.3" cy="84.0" r="26.0" fill="url(#gOocyte)" stroke="#22a52a" stroke-width="3.2"/><path d="M1559.3,76.0 Q1582.3,88.0 1605.3,76.0" fill="none" stroke="#22a52a" stroke-width="3"/><path d="M1560.3,75.0 Q1582.3,52.0 1604.3,75.0 Q1582.3,87.0 1560.3,75.0 Z" fill="#b9e0b0" opacity="0.8"/><circle cx="1582.3" cy="67.0" r="3" fill="#7cc070"/>
<path d="M1695.0,79.0 q1,8 10,11 q10,3 22,6 q6,2 8,6" fill="none" stroke="#2aa52e" stroke-width="2.8" stroke-linecap="round"/><ellipse cx="1736.0" cy="99.0" rx="6.5" ry="4.2" transform="rotate(25 1736.0 99.0)" fill="#cfe6de" stroke="#2aa52e" stroke-width="2.4"/>
<path d="M1572.0,119.0 Q1632.7,144.0 1640.7,200.0 L1658.7,200.0 Q1666.7,144.0 1734.7,119.0 Z" fill="url(#gFunnel)"/>
<circle cx="1962.0" cy="312.5" r="26.5" fill="url(#gEmb)" stroke="#2aa52e" stroke-width="1.6"/><clipPath id="cap1962"><path d="M273,290 C270,274 280,259.6 298,259.6 C316,259.6 326,274 324,291 C318,287 312,293 306,289 C300,292 294,287 288,291 C282,288 278,293 273,290 Z"/></clipPath><g transform="translate(1664.1,15.0)"><path d="M273,290 C270,274 280,259.6 298,259.6 C316,259.6 326,274 324,291 C318,287 312,293 306,289 C300,292 294,287 288,291 C282,288 278,293 273,290 Z" fill="#bcd8dc"/><g clip-path="url(#cap1962)" fill="none" stroke="#2aab32" stroke-width="1.0"><ellipse cx="270.3" cy="258.4" rx="2.4" ry="2.1"/><ellipse cx="274.6" cy="258.5" rx="2.7" ry="1.8"/><ellipse cx="280.0" cy="258.3" rx="2.4" ry="1.9"/><ellipse cx="284.3" cy="258.1" rx="2.9" ry="2.1"/><ellipse cx="288.8" cy="258.4" rx="2.7" ry="2.3"/><ellipse cx="293.6" cy="258.4" rx="2.7" ry="1.8"/><ellipse cx="298.3" cy="258.3" rx="2.4" ry="1.8"/><ellipse cx="302.8" cy="258.6" rx="2.8" ry="2.3"/><ellipse cx="307.2" cy="258.6" rx="2.5" ry="2.3"/><ellipse cx="311.5" cy="258.1" rx="2.9" ry="1.9"/><ellipse cx="316.5" cy="258.2" rx="3.0" ry="2.1"/><ellipse cx="320.9" cy="258.4" rx="2.6" ry="2.0"/><ellipse cx="325.7" cy="258.6" rx="2.7" ry="2.3"/><ellipse cx="272.8" cy="262.0" rx="2.9" ry="2.4"/><ellipse cx="277.6" cy="262.2" rx="2.9" ry="2.4"/><ellipse cx="282.2" cy="262.2" rx="2.8" ry="1.9"/><ellipse cx="286.8" cy="262.5" rx="2.4" ry="1.8"/><ellipse cx="291.0" cy="262.0" rx="2.3" ry="2.3"/><ellipse cx="296.0" cy="261.9" rx="2.4" ry="2.3"/><ellipse cx="300.5" cy="262.1" rx="2.7" ry="1.8"/><ellipse cx="304.9" cy="262.5" rx="2.9" ry="2.4"/><ellipse cx="309.6" cy="261.9" rx="2.4" ry="1.8"/><ellipse cx="314.2" cy="262.0" rx="2.4" ry="2.0"/><ellipse cx="318.6" cy="262.5" rx="2.2" ry="2.3"/><ellipse cx="323.3" cy="262.2" rx="2.9" ry="2.0"/><ellipse cx="327.9" cy="262.3" rx="2.7" ry="2.2"/><ellipse cx="270.3" cy="266.2" rx="3.0" ry="2.1"/><ellipse cx="275.4" cy="266.1" rx="2.4" ry="2.0"/><ellipse cx="279.5" cy="266.1" rx="2.6" ry="1.8"/><ellipse cx="284.3" cy="265.8" rx="2.2" ry="2.2"/><ellipse cx="288.9" cy="266.0" rx="2.7" ry="2.1"/><ellipse cx="293.0" cy="265.8" rx="2.8" ry="2.2"/><ellipse cx="297.8" cy="266.1" rx="2.7" ry="2.4"/><ellipse cx="302.5" cy="266.0" rx="2.7" ry="2.0"/><ellipse cx="307.0" cy="266.0" rx="2.5" ry="2.2"/><ellipse cx="311.9" cy="266.2" rx="2.8" ry="1.8"/><ellipse cx="316.6" cy="265.9" rx="2.4" ry="1.9"/><ellipse cx="321.2" cy="265.9" rx="2.3" ry="2.1"/><ellipse cx="325.9" cy="266.1" rx="2.5" ry="2.0"/><ellipse cx="272.6" cy="270.1" rx="2.9" ry="1.9"/><ellipse cx="277.1" cy="269.8" rx="2.9" ry="2.1"/><ellipse cx="282.1" cy="270.2" rx="2.6" ry="1.9"/><ellipse cx="286.7" cy="270.1" rx="2.3" ry="2.0"/><ellipse cx="290.8" cy="269.9" rx="2.8" ry="2.0"/><ellipse cx="295.6" cy="270.0" rx="2.8" ry="2.0"/><ellipse cx="300.6" cy="269.8" rx="2.5" ry="2.0"/><ellipse cx="305.2" cy="270.3" rx="2.2" ry="2.4"/><ellipse cx="309.8" cy="269.8" rx="2.5" ry="2.4"/><ellipse cx="314.2" cy="270.0" rx="2.8" ry="2.3"/><ellipse cx="318.5" cy="269.7" rx="2.4" ry="2.0"/><ellipse cx="323.5" cy="269.7" rx="2.7" ry="2.0"/><ellipse cx="328.2" cy="270.2" rx="2.9" ry="2.2"/><ellipse cx="270.0" cy="274.0" rx="2.9" ry="2.1"/><ellipse cx="275.1" cy="273.9" rx="2.3" ry="2.0"/><ellipse cx="279.7" cy="273.8" rx="2.5" ry="2.4"/><ellipse cx="284.2" cy="274.1" rx="2.4" ry="2.3"/><ellipse cx="288.8" cy="274.1" rx="2.5" ry="1.9"/><ellipse cx="293.7" cy="274.1" rx="2.3" ry="2.3"/><ellipse cx="298.1" cy="274.1" rx="2.9" ry="1.8"/><ellipse cx="302.4" cy="273.9" rx="2.2" ry="2.0"/><ellipse cx="307.4" cy="273.6" rx="2.5" ry="2.1"/><ellipse cx="311.5" cy="273.6" rx="2.2" ry="1.9"/><ellipse cx="316.1" cy="273.9" rx="3.0" ry="2.3"/><ellipse cx="320.9" cy="274.0" rx="2.5" ry="2.0"/><ellipse cx="325.4" cy="273.8" rx="2.7" ry="2.0"/><ellipse cx="272.9" cy="277.7" rx="2.3" ry="2.1"/><ellipse cx="277.2" cy="277.9" rx="2.3" ry="1.9"/><ellipse cx="282.1" cy="277.9" rx="2.8" ry="2.0"/><ellipse cx="286.5" cy="277.9" rx="2.5" ry="2.0"/><ellipse cx="291.1" cy="277.6" rx="2.5" ry="2.2"/><ellipse cx="295.4" cy="277.8" rx="2.6" ry="2.2"/><ellipse cx="300.6" cy="277.7" rx="2.5" ry="2.3"/><ellipse cx="304.7" cy="277.8" rx="2.9" ry="2.3"/><ellipse cx="309.6" cy="278.0" rx="2.3" ry="2.3"/><ellipse cx="314.3" cy="277.8" rx="2.8" ry="2.2"/><ellipse cx="318.3" cy="277.6" rx="2.3" ry="2.2"/><ellipse cx="323.0" cy="277.6" rx="2.8" ry="1.8"/><ellipse cx="327.5" cy="278.0" rx="2.9" ry="1.9"/><ellipse cx="270.5" cy="281.9" rx="2.3" ry="2.3"/><ellipse cx="275.2" cy="281.4" rx="3.0" ry="2.1"/><ellipse cx="279.8" cy="281.5" rx="2.8" ry="2.1"/><ellipse cx="283.8" cy="281.6" rx="2.8" ry="2.4"/><ellipse cx="288.6" cy="281.5" rx="2.7" ry="2.3"/><ellipse cx="293.6" cy="281.6" rx="2.4" ry="2.2"/><ellipse cx="297.9" cy="281.7" rx="2.5" ry="2.0"/><ellipse cx="303.0" cy="281.6" rx="2.3" ry="2.1"/><ellipse cx="307.4" cy="281.9" rx="2.8" ry="1.9"/><ellipse cx="311.8" cy="281.8" rx="2.7" ry="2.1"/><ellipse cx="316.1" cy="281.8" rx="2.9" ry="1.9"/><ellipse cx="321.0" cy="281.8" rx="2.9" ry="2.1"/><ellipse cx="325.4" cy="281.8" rx="2.3" ry="2.0"/><ellipse cx="272.9" cy="285.9" rx="2.5" ry="1.9"/><ellipse cx="277.2" cy="285.8" rx="2.4" ry="2.2"/><ellipse cx="281.7" cy="285.3" rx="2.7" ry="2.0"/><ellipse cx="286.2" cy="285.5" rx="2.6" ry="2.0"/><ellipse cx="290.8" cy="285.9" rx="2.5" ry="2.3"/><ellipse cx="295.7" cy="285.8" rx="2.6" ry="2.2"/><ellipse cx="300.3" cy="285.7" rx="2.9" ry="2.1"/><ellipse cx="305.1" cy="285.9" rx="2.9" ry="2.0"/><ellipse cx="309.3" cy="285.7" rx="2.6" ry="1.9"/><ellipse cx="314.4" cy="285.4" rx="2.7" ry="2.4"/><ellipse cx="318.4" cy="285.7" rx="2.4" ry="2.0"/><ellipse cx="323.1" cy="285.8" rx="2.9" ry="2.3"/><ellipse cx="328.1" cy="285.4" rx="2.5" ry="2.1"/><ellipse cx="270.2" cy="289.4" rx="2.3" ry="2.3"/><ellipse cx="274.6" cy="289.4" rx="2.7" ry="2.2"/><ellipse cx="279.4" cy="289.6" rx="2.5" ry="2.1"/><ellipse cx="284.2" cy="289.3" rx="3.0" ry="2.0"/><ellipse cx="288.5" cy="289.7" rx="2.4" ry="2.2"/><ellipse cx="293.8" cy="289.4" rx="2.9" ry="1.9"/><ellipse cx="297.8" cy="289.6" rx="2.8" ry="2.3"/><ellipse cx="302.4" cy="289.7" rx="2.7" ry="2.3"/><ellipse cx="307.2" cy="289.3" rx="3.0" ry="2.2"/><ellipse cx="312.0" cy="289.6" rx="2.6" ry="2.0"/><ellipse cx="316.5" cy="289.6" rx="2.7" ry="1.9"/><ellipse cx="321.1" cy="289.3" rx="2.3" ry="2.3"/><ellipse cx="325.5" cy="289.6" rx="2.9" ry="1.9"/><ellipse cx="272.8" cy="293.4" rx="2.7" ry="2.1"/><ellipse cx="277.0" cy="293.5" rx="2.4" ry="1.9"/><ellipse cx="282.1" cy="293.3" rx="2.8" ry="2.1"/><ellipse cx="286.8" cy="293.1" rx="2.4" ry="2.0"/><ellipse cx="291.3" cy="293.3" rx="2.6" ry="1.9"/><ellipse cx="295.7" cy="293.6" rx="2.5" ry="2.0"/><ellipse cx="300.0" cy="293.3" rx="2.5" ry="2.3"/><ellipse cx="305.1" cy="293.5" rx="2.3" ry="1.9"/><ellipse cx="309.4" cy="293.5" rx="2.3" ry="1.9"/><ellipse cx="314.2" cy="293.2" rx="2.9" ry="2.2"/><ellipse cx="318.7" cy="293.4" rx="2.5" ry="1.9"/><ellipse cx="323.5" cy="293.1" rx="2.4" ry="2.0"/><ellipse cx="328.3" cy="293.3" rx="2.8" ry="2.3"/></g><path d="M273,290 C270,274 280,259.6 298,259.6 C316,259.6 326,274 324,291 C318,287 312,293 306,289 C300,292 294,287 288,291 C282,288 278,293 273,290 Z" fill="none" stroke="#2aab32" stroke-width="1.4"/></g>
<path d="M296.7,923.6 L296.7,873.8 L296.1,873.8 L299.5,864.8 L302.9,873.8 L302.3,873.8 L302.3,923.6Z" fill="#0b0b0b"/><path d="M304.9,923.6 L304.9,873.8 L304.4,873.8 L307.8,864.8 L311.1,873.8 L310.6,873.8 L310.6,923.6Z" fill="#0b0b0b"/><path d="M313.2,923.6 L313.2,873.8 L312.6,873.8 L316.0,864.8 L319.4,873.8 L318.8,873.8 L318.8,923.6Z" fill="#0b0b0b"/><path d="M321.4,923.6 L321.4,873.8 L320.9,873.8 L324.2,864.8 L327.6,873.8 L327.1,873.8 L327.1,923.6Z" fill="#0b0b0b"/><path d="M329.7,923.6 L329.7,873.8 L329.1,873.8 L332.5,864.8 L335.9,873.8 L335.3,873.8 L335.3,923.6Z" fill="#0b0b0b"/><rect x="295" y="875" width="42" height="2.4" fill="#0b0b0b"/><rect x="295" y="913.5" width="42" height="2.4" fill="#0b0b0b"/><path d="M296.7,1006 L296.7,990.0 L302.3,987.0 L302.3,1006Z" fill="#0b0b0b"/><path d="M304.9,1006 L304.9,987.0 L310.6,984.0 L310.6,1006Z" fill="#0b0b0b"/><path d="M313.2,1006 L313.2,991.0 L318.8,988.0 L318.8,1006Z" fill="#0b0b0b"/><path d="M321.4,1006 L321.4,986.0 L327.1,983.0 L327.1,1006Z" fill="#0b0b0b"/><path d="M329.7,1006 L329.7,983.0 L335.3,980.0 L335.3,1006Z" fill="#0b0b0b"/><rect x="295" y="995" width="42" height="2.4" fill="#0b0b0b"/><path d="M790.7,923.6 L790.7,874.8 L790.1,874.8 L793.3,864.8 L796.5,874.8 L795.9,874.8 L795.9,923.6Z" fill="#e6c822"/><rect x="788.2" y="874.8" width="10.2" height="2.4" fill="#e6c822"/><rect x="788.2" y="913.5" width="10.2" height="2.4" fill="#e6c822"/><path d="M826.9,923.6 L826.9,874.8 L826.3,874.8 L829.5,864.8 L832.7,874.8 L832.1,874.8 L832.1,923.6Z" fill="#e6c822"/><path d="M834.9,923.6 L834.9,874.8 L834.3,874.8 L837.5,864.8 L840.7,874.8 L840.1,874.8 L840.1,923.6Z" fill="#e6c822"/><rect x="825" y="875" width="17" height="2.4" fill="#e6c822"/><rect x="825" y="913.5" width="17" height="2.4" fill="#e6c822"/><path d="M692.6,1005.8 L692.6,957.0 L692.0,957.0 L695.2,947.0 L698.4,957.0 L697.8,957.0 L697.8,1005.8Z" fill="#5ab44b"/><path d="M700.9,1005.8 L700.9,957.0 L700.3,957.0 L703.5,947.0 L706.7,957.0 L706.1,957.0 L706.1,1005.8Z" fill="#5ab44b"/><path d="M709.2,1005.8 L709.2,957.0 L708.6,957.0 L711.8,947.0 L715.0,957.0 L714.4,957.0 L714.4,1005.8Z" fill="#5ab44b"/><path d="M717.5,1005.8 L717.5,957.0 L716.9,957.0 L720.1,947.0 L723.3,957.0 L722.7,957.0 L722.7,1005.8Z" fill="#5ab44b"/><path d="M725.8,1005.8 L725.8,957.0 L725.2,957.0 L728.4,947.0 L731.6,957.0 L731.0,957.0 L731.0,1005.8Z" fill="#5ab44b"/><rect x="691.0" y="956.3" width="42.4" height="2.4" fill="#5ab44b"/><rect x="691.0" y="995.7" width="42.4" height="2.4" fill="#5ab44b"/><path d="M757.4,1005.8 L757.4,957.0 L756.8,957.0 L760.0,947.0 L763.2,957.0 L762.6,957.0 L762.6,1005.8Z" fill="#e5213a"/><path d="M765.7,1005.8 L765.7,957.0 L765.1,957.0 L768.3,947.0 L771.5,957.0 L770.9,957.0 L770.9,1005.8Z" fill="#e5213a"/><path d="M774.0,1005.8 L774.0,957.0 L773.4,957.0 L776.6,947.0 L779.8,957.0 L779.2,957.0 L779.2,1005.8Z" fill="#e5213a"/><path d="M782.3,1005.8 L782.3,957.0 L781.7,957.0 L784.9,947.0 L788.1,957.0 L787.5,957.0 L787.5,1005.8Z" fill="#e5213a"/><path d="M790.6,1005.8 L790.6,957.0 L790.0,957.0 L793.2,947.0 L796.4,957.0 L795.8,957.0 L795.8,1005.8Z" fill="#e5213a"/><rect x="755.8" y="956.3" width="42.4" height="2.4" fill="#e5213a"/><rect x="755.8" y="995.7" width="42.4" height="2.4" fill="#e5213a"/><path d="M822.4,1005.8 L822.4,957.0 L821.8,957.0 L825.0,947.0 L828.2,957.0 L827.6,957.0 L827.6,1005.8Z" fill="#3391d5"/><path d="M830.7,1005.8 L830.7,957.0 L830.1,957.0 L833.3,947.0 L836.5,957.0 L835.9,957.0 L835.9,1005.8Z" fill="#3391d5"/><path d="M839.0,1005.8 L839.0,957.0 L838.4,957.0 L841.6,947.0 L844.8,957.0 L844.2,957.0 L844.2,1005.8Z" fill="#3391d5"/><path d="M847.3,1005.8 L847.3,957.0 L846.7,957.0 L849.9,947.0 L853.1,957.0 L852.5,957.0 L852.5,1005.8Z" fill="#3391d5"/><path d="M855.6,1005.8 L855.6,957.0 L855.0,957.0 L858.2,947.0 L861.4,957.0 L860.8,957.0 L860.8,1005.8Z" fill="#3391d5"/><rect x="820.8" y="956.3" width="42.4" height="2.4" fill="#3391d5"/><rect x="820.8" y="995.7" width="42.4" height="2.4" fill="#3391d5"/><path d="M886.9,1005.8 L886.9,957.0 L886.3,957.0 L889.5,947.0 L892.7,957.0 L892.1,957.0 L892.1,1005.8Z" fill="#7652a3"/><path d="M895.2,1005.8 L895.2,957.0 L894.6,957.0 L897.8,947.0 L901.0,957.0 L900.4,957.0 L900.4,1005.8Z" fill="#7652a3"/><path d="M903.5,1005.8 L903.5,957.0 L902.9,957.0 L906.1,947.0 L909.3,957.0 L908.7,957.0 L908.7,1005.8Z" fill="#7652a3"/><path d="M911.8,1005.8 L911.8,957.0 L911.2,957.0 L914.4,947.0 L917.6,957.0 L917.0,957.0 L917.0,1005.8Z" fill="#7652a3"/><path d="M920.1,1005.8 L920.1,957.0 L919.5,957.0 L922.7,947.0 L925.9,957.0 L925.3,957.0 L925.3,1005.8Z" fill="#7652a3"/><rect x="885.3" y="956.3" width="42.4" height="2.4" fill="#7652a3"/><rect x="885.3" y="995.7" width="42.4" height="2.4" fill="#7652a3"/><circle cx="1609.0" cy="911.3" r="22.0" fill="url(#gOr)"/><circle cx="1513.6" cy="987.0" r="22.0" fill="url(#gGr)"/><circle cx="1577.0" cy="987.0" r="22.0" fill="url(#gBl)"/><circle cx="1641.4" cy="987.0" r="22.0" fill="url(#gRe)"/><circle cx="1704.8" cy="987.0" r="22.0" fill="url(#gPu)"/>

<g font-family="Liberation Sans, sans-serif" fill="#000">
 <text x="488.5" y="29" font-size="32.8">Oocyte</text>
 <text x="627" y="29" font-size="32.5">Sperm</text>
 <text x="256" y="88" font-size="29" font-weight="bold">Maternal Dnmt1</text>
 <text x="1326" y="88" font-size="29" font-weight="bold">Maternal Dnmt1</text>
 <path d="M1414,62 L1465,109 M1465,62 L1414,109" stroke="#e3131b" stroke-width="8.5"/>
 <text x="742" y="123" font-size="30.8" font-weight="bold">Global inheritance &amp;</text>
 <text x="714" y="163" font-size="30.8" font-weight="bold">enhancer dememorization</text>
 <text x="863.5" y="287" font-size="30.8" font-weight="bold">EpiGate restored</text>
 <text x="160.5" y="363" font-size="33.3">Embryonic</text>
 <text x="927.5" y="436" font-size="30.8" font-weight="bold">EpiGate unlocked</text>
 <text x="34" y="724" font-size="33.5">Adult</text>
 <text x="1527.5" y="29" font-size="32.8">Oocyte</text>
 <text x="1665" y="29" font-size="32.5">Sperm</text>
 <text x="1921.5" y="246.5" font-size="32.3" font-weight="bold" fill="#e3131b">EpiGate destroyed</text>
 <text x="2145" y="547" font-size="33" font-weight="bold" fill="#e3131b">mKD</text>
 <text x="350.5" y="915" font-size="37.2">Hypermethylation</text>
 <text x="350.5" y="992" font-size="37.1">Hypomethylation</text>
 <text x="955" y="915" font-size="37.3">Low CG density</text>
 <text x="951.5" y="992" font-size="37.2">High CG density</text>
 <text x="1259.5" y="954" font-size="37.3">Enhancers</text>
 <text x="1734" y="924" font-size="37.4">Embryonic program</text>
 <text x="1779" y="999" font-size="37.2">Adult program</text>
 <rect x="1237.5" y="898" width="4.5" height="97"/>
</g>

</svg></body></html>
